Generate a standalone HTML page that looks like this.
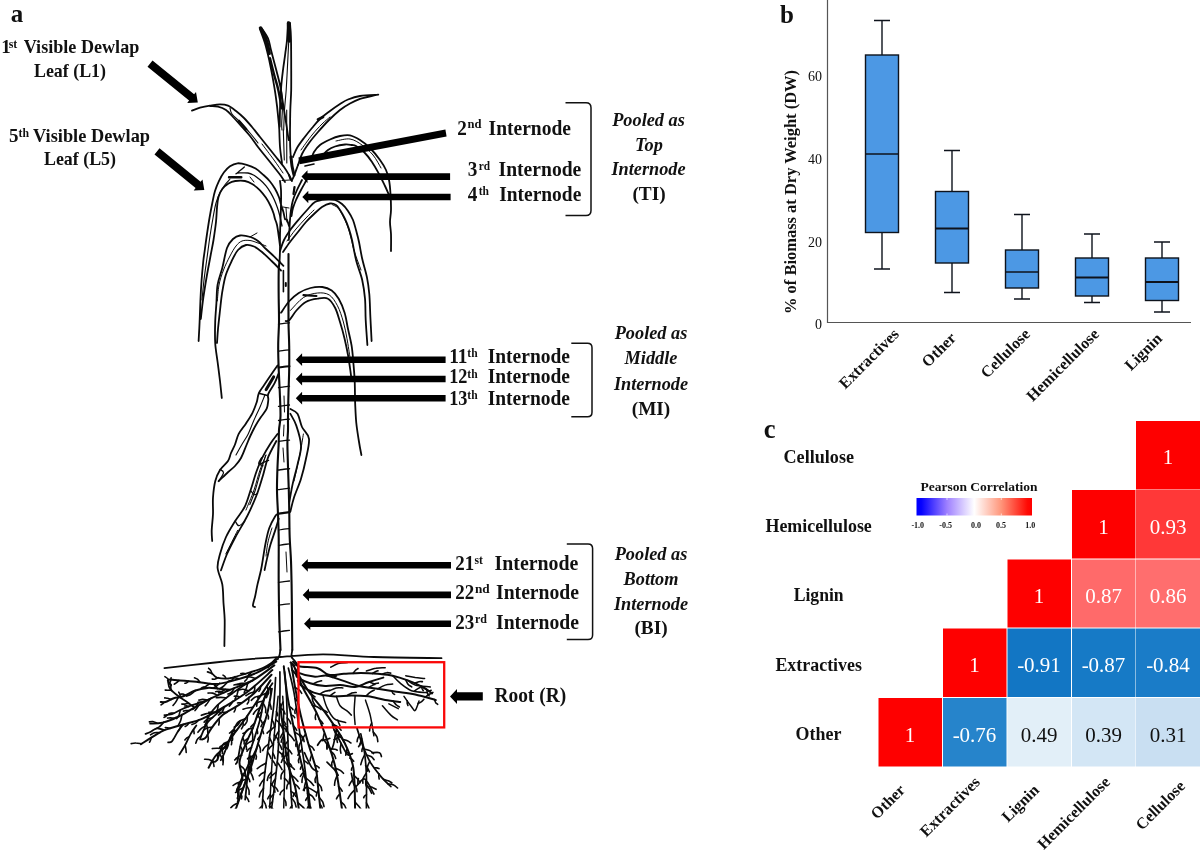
<!DOCTYPE html>
<html lang="en">
<head>
<meta charset="utf-8">
<title>Figure 1</title>
<style>
html,body{margin:0;padding:0;background:#fff;}
body{width:1200px;height:852px;overflow:hidden;position:relative;}
svg{position:absolute;left:0;top:0;display:block;}
text{font-family:"Liberation Serif","DejaVu Serif",serif;fill:#111;}
.b{font-weight:bold;}
.bi{font-weight:bold;font-style:italic;}
.lab{font-weight:bold;font-size:19px;}
.lab2{font-weight:bold;font-size:21px;}
.sup{font-size:12px;font-weight:bold;}
.pool{font-weight:bold;font-style:italic;font-size:18.3px;text-anchor:middle;}
.poolr{font-weight:bold;font-size:19.3px;text-anchor:middle;}
.tick{font-size:14px;text-anchor:end;}
.xl{font-weight:bold;font-size:16px;text-anchor:end;}
.rl{font-weight:bold;font-size:19.2px;}
.cv{font-size:21px;text-anchor:middle;fill:#fff;}
.cvd{font-size:21px;text-anchor:middle;fill:#111;}
.lt{font-size:8px;font-weight:bold;text-anchor:middle;}
.ar{fill:#000;stroke:none;}
.plant path{fill:none;stroke:#0a0a0a;stroke-linecap:round;stroke-linejoin:round;}
</style>
</head>
<body>
<svg width="1200" height="852" viewBox="0 0 1200 852">
<defs>
<linearGradient id="pg" x1="0" x2="1" y1="0" y2="0">
<stop offset="0" stop-color="#0000ff"/>
<stop offset="0.04" stop-color="#0400ff"/>
<stop offset="0.27" stop-color="#a183ff"/>
<stop offset="0.5" stop-color="#ffffff"/>
<stop offset="0.73" stop-color="#ff977c"/>
<stop offset="0.96" stop-color="#ff0a04"/>
<stop offset="1" stop-color="#ff0000"/>
</linearGradient>
<clipPath id="rootclip"><rect x="0" y="640" width="480" height="168.500"/></clipPath>
</defs>
<rect x="0" y="0" width="1200" height="852" fill="#ffffff"/>

<!-- ================= PANEL A : plant drawing ================= -->
<g id="plant" class="plant">
<!--PLANT-->
<path style="stroke-width:1.0" d="M262.0,144.0 C264.0,146.7 270.5,155.2 274.0,160.0 C277.5,164.8 281.5,170.8 283.0,173.0 M301.0,150.0 C302.8,147.5 308.5,139.3 312.0,135.0 C315.5,130.7 319.0,127.0 322.0,124.0 C325.0,121.0 328.7,118.2 330.0,117.0 M336.0,141.0 C338.3,140.7 345.7,138.3 350.0,139.0 C354.3,139.7 358.2,142.3 362.0,145.0 C365.8,147.7 369.8,151.2 373.0,155.0 C376.2,158.8 379.7,165.8 381.0,168.0 M250.0,177.0 L254.0,182.0 M283.0,207.0 L289.0,208.0 M286.0,208.0 L287.0,222.0"/>
<path style="stroke-width:1.0" d="M287.0,241.0 C288.5,239.0 292.8,232.8 296.0,229.0 C299.2,225.2 303.0,221.2 306.0,218.0 C309.0,214.8 312.7,211.3 314.0,210.0 M332.0,204.5 C333.0,205.1 336.2,206.1 338.0,208.0 C339.8,209.9 341.4,213.0 343.0,216.0 C344.6,219.0 346.2,222.3 347.5,226.0 C348.8,229.7 349.8,233.7 351.0,238.0 C352.2,242.3 352.8,246.7 354.5,252.0 C356.2,257.3 359.9,267.0 361.0,270.0 M266.0,246.0 C264.7,245.5 260.7,243.9 258.0,243.0 C255.3,242.1 252.7,240.8 250.0,240.5 C247.3,240.2 244.3,240.1 242.0,241.0 C239.7,241.9 238.0,243.5 236.0,246.0 C234.0,248.5 232.1,252.0 230.0,256.0 C227.9,260.0 225.3,265.2 223.5,270.0 C221.7,274.8 220.0,279.8 219.0,285.0 C218.0,290.2 217.6,298.3 217.3,301.0 M250.0,237.0 L257.0,233.0 M284.0,396.0 L284.5,412.0 M284.0,425.0 L283.5,436.0"/>
<path style="stroke-width:1.0" d="M283.0,448.0 L284.0,462.0 M286.0,552.0 L287.0,572.0 M290.4,310.5 C292.6,308.3 299.0,300.4 303.5,297.5 C308.0,294.6 313.3,293.4 317.6,293.0 C321.9,292.6 326.0,292.9 329.3,295.0 C332.6,297.1 335.1,301.3 337.5,305.8 C339.9,310.3 341.8,316.5 343.4,322.0 C345.0,327.5 345.9,332.8 347.0,338.7 C348.1,344.6 349.5,354.4 350.0,357.5 M237.6,530.4 C236.6,532.4 233.7,538.2 231.7,542.2 C229.8,546.1 226.8,551.9 225.8,553.9 M266.0,455.0 C265.0,457.5 262.0,464.2 260.0,470.0 C258.0,475.8 256.3,483.3 254.0,490.0 C251.7,496.7 247.3,506.7 246.0,510.0 M272.0,528.0 C271.3,530.3 269.0,537.3 268.0,542.0 C267.0,546.7 266.3,553.7 266.0,556.0"/>
<path style="stroke-width:1.0" d="M303.4,434.0 C302.8,437.5 301.4,447.2 299.8,455.0 C298.2,462.8 295.0,476.7 294.0,481.0"/>
<path style="stroke-width:1.1" d="M288.7,41.7 C288.5,44.7 288.2,51.9 287.8,60.0 C287.4,68.1 286.7,81.7 286.2,90.0 C285.6,98.3 284.9,103.3 284.5,110.0 C284.1,116.7 283.8,126.7 283.7,130.0 M286.7,110.0 L286.7,130.0 M283.3,130.0 L284.3,160.0 M286.7,130.0 L286.8,163.0 M280.8,85.0 C281.1,88.1 282.4,96.9 282.5,103.3 C282.6,109.7 281.8,118.9 281.7,123.3 C281.6,127.8 281.9,128.9 282.0,130.0 M230.0,108.0 C230.3,109.0 230.3,111.7 232.0,114.0 C233.7,116.3 237.0,118.8 240.0,122.0 C243.0,125.2 247.0,129.5 250.0,133.0 C253.0,136.5 256.7,141.3 258.0,143.0"/>
<path style="stroke-width:1.1" d="M230.0,179.0 C229.1,180.0 226.5,182.7 224.8,185.0 C223.1,187.3 221.5,189.6 220.0,192.6 C218.5,195.6 217.2,198.8 216.0,203.0 C214.8,207.2 214.0,212.5 213.0,218.0 C212.0,223.5 211.0,229.3 210.0,236.0 C209.0,242.7 208.0,250.7 207.0,258.0 C206.0,265.3 204.8,273.0 204.0,280.0 C203.2,287.0 202.3,296.7 202.0,300.0 M282.0,180.5 L290.0,180.0 M265.0,394.8 C264.1,396.9 261.7,403.1 259.8,407.5 C257.9,411.9 255.4,416.8 253.5,421.2 C251.6,425.6 250.1,430.0 248.2,433.9 C246.3,437.8 243.9,441.0 241.9,444.5 C239.9,448.0 237.0,453.2 236.0,455.0 M265.8,455.2 C264.8,458.4 261.7,468.2 259.9,474.0 C258.1,479.9 256.9,485.4 255.2,490.5 C253.5,495.6 250.7,502.2 249.8,504.6"/>
<path style="stroke-width:1.2" d="M278.5,530.0 C279.4,529.9 282.2,529.4 284.0,529.2 C285.8,529.0 288.6,528.7 289.5,528.6 M220.0,469.3 C220.6,469.9 223.8,470.8 223.5,472.9 C223.2,474.9 219.2,480.1 218.3,481.5 M261.5,457.6 C261.1,458.6 258.5,462.1 258.7,463.5 C259.0,464.8 262.3,465.4 263.0,465.8 M250.5,490.5 C251.2,491.2 253.3,494.2 254.5,494.7 C255.7,495.2 257.0,493.5 257.6,493.3 M235.2,521.0 C235.8,521.8 237.2,525.6 238.8,525.7 C240.3,525.8 243.7,522.2 244.6,521.5"/>
<path style="stroke-width:1.3" d="M282.0,226.0 C281.6,224.2 280.4,218.1 279.6,215.0 C278.8,211.9 278.3,210.1 277.4,207.6 C276.5,205.1 275.5,202.5 274.4,200.0 C273.3,197.5 272.0,195.0 270.6,192.6 C269.2,190.2 267.8,187.9 266.0,185.8 C264.2,183.7 262.0,181.6 260.0,179.8 C258.0,178.1 256.0,176.4 254.0,175.3 C252.0,174.2 250.8,173.4 248.0,173.0 C245.2,172.6 239.2,173.0 237.5,173.0 M244.3,167.0 C243.6,167.6 241.2,169.7 239.8,170.8 C238.4,171.9 236.6,173.3 236.0,173.8 M278.5,324.2 C279.4,324.1 282.2,323.6 284.0,323.4 C285.8,323.2 288.6,322.9 289.5,322.8 M278.5,351.2 C279.4,351.1 282.2,350.6 284.0,350.4 C285.8,350.2 288.6,349.9 289.5,349.8 M278.5,387.6 C279.4,387.5 282.2,387.0 284.0,386.8 C285.8,386.6 288.6,386.3 289.5,386.2 M278.5,406.4 C279.4,406.3 282.2,405.8 284.0,405.6 C285.8,405.4 288.6,405.1 289.5,405.0"/>
<path style="stroke-width:1.3" d="M278.5,420.5 C279.4,420.4 282.2,419.9 284.0,419.7 C285.8,419.5 288.6,419.2 289.5,419.1 M278.5,441.5 C279.4,441.4 282.2,440.9 284.0,440.7 C285.8,440.5 288.6,440.2 289.5,440.1 M278.5,489.6 C279.4,489.5 282.2,489.0 284.0,488.8 C285.8,488.6 288.6,488.3 289.5,488.2 M278.5,545.3 C279.4,545.2 282.2,544.7 284.0,544.5 C285.8,544.3 288.6,544.0 289.5,543.9 M278.5,582.4 C279.4,582.3 282.2,581.8 284.0,581.6 C285.8,581.4 288.6,581.1 289.5,581.0 M278.5,605.2 C279.4,605.1 282.2,604.6 284.0,604.4 C285.8,604.2 288.6,603.9 289.5,603.8"/>
<path style="stroke-width:1.3" d="M278.5,631.8 C279.4,631.7 282.2,631.2 284.0,631.0 C285.8,630.8 288.6,630.5 289.5,630.4"/>
<path style="stroke-width:1.4" d="M258.8,393.3 L267.5,395.5 M259.9,464.2 C260.7,463.8 263.2,462.4 264.6,461.8 C266.0,461.2 267.9,460.6 268.6,460.4"/>
<path style="stroke-width:1.5" d="M278.5,470.1 C279.4,470.0 282.2,469.5 284.0,469.3 C285.8,469.1 288.6,468.8 289.5,468.7"/>
<path style="stroke-width:1.6" d="M305.0,166.0 L314.0,164.0 M283.4,270.5 L283.4,291.7"/>
<path style="stroke-width:1.8" d="M288.0,22.5 C287.8,25.4 287.4,34.9 287.0,40.0 C286.6,45.1 286.0,48.3 285.3,53.3 C284.7,58.3 283.7,64.4 283.0,70.0 C282.3,75.6 281.6,81.1 281.2,86.7 C280.7,92.2 280.4,96.7 280.2,103.3 C279.9,110.0 279.8,122.8 279.7,126.7 M290.0,23.0 C290.2,25.8 290.8,33.8 291.0,40.0 C291.2,46.2 291.1,51.7 291.2,60.0 C291.2,68.3 291.3,81.7 291.2,90.0 C291.0,98.3 290.5,103.3 290.3,110.0 C290.1,116.7 290.1,126.7 290.0,130.0 M279.3,130.0 C279.4,132.8 279.6,141.5 280.0,147.0 C280.4,152.5 281.7,160.3 282.0,163.0 M290.0,130.0 C290.0,132.8 290.0,141.8 290.2,147.0 C290.4,152.2 290.9,158.7 291.0,161.0 M261.3,27.7 C262.4,29.4 266.4,34.6 268.0,38.3 C269.6,42.1 269.7,45.0 271.0,50.0 C272.3,55.0 274.3,62.5 275.8,68.3 C277.3,74.2 278.8,79.2 280.0,85.0 C281.2,90.8 281.9,96.4 283.0,103.3 C284.1,110.3 285.7,120.6 286.7,126.7 C287.6,132.8 288.3,137.8 288.7,140.0 M260.0,29.2 C260.8,31.5 263.5,38.2 265.0,43.3 C266.5,48.5 267.9,54.4 269.2,60.0 C270.4,65.6 271.4,70.6 272.5,76.7 C273.6,82.8 274.9,89.7 275.8,96.7 C276.8,103.6 277.8,112.8 278.3,118.3 C278.9,123.9 279.2,128.1 279.3,130.0"/>
<path style="stroke-width:1.8" d="M192.0,110.6 C193.3,110.1 197.0,108.4 200.0,107.6 C203.0,106.8 206.7,106.1 210.0,105.6 C213.3,105.1 217.0,104.4 220.0,104.4 C223.0,104.4 225.3,104.5 228.0,105.6 C230.7,106.7 233.3,108.9 236.0,111.0 C238.7,113.1 241.3,115.3 244.0,118.0 C246.7,120.7 249.3,123.8 252.0,127.0 C254.7,130.2 257.3,133.7 260.0,137.0 C262.7,140.3 265.3,143.7 268.0,147.0 C270.7,150.3 273.3,153.7 276.0,157.0 C278.7,160.3 281.8,164.0 284.0,167.0 C286.2,170.0 287.7,172.7 289.0,175.0 C290.3,177.3 291.5,180.0 292.0,181.0 M210.0,106.2 C211.3,106.3 215.3,106.0 218.0,106.6 C220.7,107.2 223.3,108.1 226.0,110.0 C228.7,111.9 231.3,115.2 234.0,118.0 C236.7,120.8 239.3,124.0 242.0,127.0 C244.7,130.0 247.3,132.7 250.0,136.0 C252.7,139.3 255.3,143.5 258.0,147.0 C260.7,150.5 263.3,153.7 266.0,157.0 C268.7,160.3 271.5,163.8 274.0,167.0 C276.5,170.2 279.2,173.5 281.0,176.0 C282.8,178.5 284.3,181.0 285.0,182.0 M293.0,157.0 C293.7,155.5 295.2,151.2 297.0,148.0 C298.8,144.8 301.5,141.3 304.0,138.0 C306.5,134.7 309.3,131.2 312.0,128.0 C314.7,124.8 317.0,121.8 320.0,119.0 C323.0,116.2 326.7,113.5 330.0,111.0 C333.3,108.5 337.0,105.9 340.0,104.0 C343.0,102.1 344.7,100.8 348.0,99.5 C351.3,98.2 354.9,96.8 360.0,96.0 C365.1,95.2 375.2,94.9 378.3,94.7 M298.0,165.0 C298.7,163.2 300.2,157.7 302.0,154.0 C303.8,150.3 306.3,146.7 309.0,143.0 C311.7,139.3 314.7,135.8 318.0,132.0 C321.3,128.2 325.3,123.7 329.0,120.0 C332.7,116.3 336.5,112.8 340.0,110.0 C343.5,107.2 346.7,105.3 350.0,103.5 C353.3,101.7 356.9,100.0 360.0,98.9 C363.1,97.8 365.2,97.5 368.3,96.8 C371.4,96.1 376.6,95.0 378.3,94.7 M312.0,157.0 C312.3,156.2 312.7,154.0 314.0,152.0 C315.3,150.0 317.3,147.1 320.0,145.0 C322.7,142.9 326.7,141.0 330.0,139.5 C333.3,138.0 336.7,136.7 340.0,136.0 C343.3,135.3 346.7,134.6 350.0,135.3 C353.3,136.0 356.7,137.9 360.0,140.0 C363.3,142.1 366.7,144.7 370.0,148.0 C373.3,151.3 377.3,156.3 380.0,160.0 C382.7,163.7 384.5,166.7 386.0,170.0 C387.5,173.3 388.2,176.0 389.0,180.0 C389.8,184.0 390.2,189.0 390.5,194.0 C390.8,199.0 391.1,205.3 391.0,210.0 C390.9,214.7 390.0,218.0 390.0,222.0 C390.0,226.0 390.8,229.2 391.0,234.0 C391.2,238.8 391.0,248.2 391.0,251.0 M322.0,156.0 C323.0,155.0 325.8,151.6 328.0,150.0 C330.2,148.4 332.2,147.4 335.0,146.5 C337.8,145.6 342.2,144.8 345.0,144.5 C347.8,144.2 350.2,144.8 352.0,145.0 C353.8,145.2 354.0,144.8 356.0,146.0 C358.0,147.2 361.3,149.3 364.0,152.0 C366.7,154.7 369.5,158.3 372.0,162.0 C374.5,165.7 376.8,170.0 379.0,174.0 C381.2,178.0 383.3,182.5 385.0,186.0 C386.7,189.5 388.3,193.5 389.0,195.0"/>
<path style="stroke-width:1.8" d="M290.0,229.0 C289.5,227.5 287.8,221.7 287.0,220.0 C286.2,218.3 285.6,220.3 285.0,219.0 C284.4,217.7 284.1,214.4 283.4,212.0 C282.7,209.6 281.8,207.1 281.0,204.6 C280.2,202.1 279.9,199.6 278.9,197.0 C277.9,194.4 276.5,191.4 275.0,188.8 C273.5,186.2 271.7,183.6 269.8,181.3 C267.9,179.1 266.2,177.4 263.8,175.3 C261.4,173.2 258.5,170.2 255.6,168.5 C252.7,166.8 249.6,165.7 246.6,164.8 C243.6,163.9 240.3,163.1 237.5,163.3 C234.7,163.6 232.2,164.8 230.0,166.3 C227.8,167.8 225.9,169.8 224.0,172.3 C222.1,174.8 220.3,178.2 218.8,181.3 C217.3,184.4 216.1,187.6 215.0,191.0 C213.9,194.4 213.4,197.5 212.5,202.0 C211.6,206.5 210.4,212.7 209.5,218.0 C208.6,223.3 207.8,228.7 207.0,234.0 C206.2,239.3 205.4,245.3 204.8,250.0 C204.2,254.7 203.7,257.0 203.2,262.0 C202.7,267.0 202.1,273.5 201.6,280.0 C201.1,286.5 200.7,294.0 200.4,301.0 C200.1,308.0 199.9,315.3 199.6,322.0 C199.3,328.7 198.8,337.8 198.6,341.0 M280.0,246.0 C279.8,244.7 279.5,241.5 279.0,238.0 C278.5,234.5 277.7,228.2 277.0,225.0 C276.3,221.8 275.6,220.9 275.0,219.0 C274.4,217.1 274.3,215.8 273.6,213.6 C272.9,211.4 271.9,208.6 270.6,206.0 C269.3,203.4 267.8,200.4 266.0,197.8 C264.2,195.2 262.2,192.6 260.0,190.3 C257.8,188.1 255.1,185.9 252.6,184.3 C250.1,182.8 247.9,181.6 245.0,181.0 C242.1,180.4 238.1,180.6 235.3,181.0 C232.6,181.4 230.6,182.2 228.5,183.5 C226.4,184.8 224.2,186.6 222.5,188.8 C220.8,191.1 219.4,193.9 218.5,197.0 C217.6,200.1 217.4,203.4 217.0,207.6 C216.6,211.8 216.6,216.6 216.0,222.0 C215.4,227.4 214.4,234.3 213.5,240.0 C212.6,245.7 211.6,250.0 210.5,256.0 C209.4,262.0 208.0,269.0 206.8,276.0 C205.6,283.0 204.3,290.8 203.3,298.0 C202.3,305.2 201.2,315.5 200.8,319.0 M289.0,175.0 C289.5,175.8 290.5,181.7 292.0,180.0 C293.5,178.3 297.0,167.5 298.0,165.0 M280.0,181.0 C280.2,182.5 280.8,186.2 281.0,190.0 C281.2,193.8 281.1,199.0 281.0,204.0 C280.9,209.0 280.7,214.8 280.5,220.0 C280.3,225.2 280.1,230.0 280.0,235.0 C279.9,240.0 280.1,245.5 280.0,250.0 C279.9,254.5 279.6,260.0 279.5,262.0 M302.0,180.0 C301.2,181.7 298.5,186.7 297.0,190.0 C295.5,193.3 294.0,196.7 293.0,200.0 C292.0,203.3 291.5,206.7 291.0,210.0 C290.5,213.3 290.2,217.0 290.0,220.0 C289.8,223.0 289.7,224.7 289.5,228.0 C289.3,231.3 288.9,238.0 288.8,240.0 M306.0,181.0 C305.2,182.5 302.7,186.8 301.0,190.0 C299.3,193.2 297.3,197.0 296.0,200.0 C294.7,203.0 293.8,205.3 293.0,208.0 C292.2,210.7 291.8,214.7 291.5,216.0"/>
<path style="stroke-width:1.8" d="M280.0,251.0 C280.7,249.2 282.2,243.7 284.0,240.0 C285.8,236.3 288.3,232.7 291.0,229.0 C293.7,225.3 297.2,221.3 300.0,218.0 C302.8,214.7 305.5,211.7 308.0,209.0 C310.5,206.3 312.2,203.6 315.0,202.0 C317.8,200.4 321.7,199.8 325.0,199.5 C328.3,199.2 332.2,199.2 335.0,200.0 C337.8,200.8 339.8,202.2 342.0,204.0 C344.2,205.8 346.2,208.3 348.0,211.0 C349.8,213.7 351.7,216.8 353.0,220.0 C354.3,223.2 355.0,226.3 356.0,230.0 C357.0,233.7 358.0,237.2 359.0,242.0 C360.0,246.8 360.9,252.9 362.2,258.8 C363.5,264.7 365.8,271.7 367.0,277.6 C368.2,283.5 368.7,287.4 369.3,294.0 C369.9,300.6 370.0,309.7 370.4,317.5 C370.8,325.3 371.4,337.1 371.6,341.0 M283.0,252.0 C284.2,250.3 287.5,245.3 290.0,242.0 C292.5,238.7 295.3,235.3 298.0,232.0 C300.7,228.7 303.3,225.0 306.0,222.0 C308.7,219.0 311.3,216.5 314.0,214.0 C316.7,211.5 319.3,208.8 322.0,207.0 C324.7,205.2 327.7,203.8 330.0,203.5 C332.3,203.2 334.3,203.9 336.0,205.0 C337.7,206.1 338.5,207.7 340.0,210.0 C341.5,212.3 343.5,215.8 345.0,219.0 C346.5,222.2 347.8,225.5 349.0,229.0 C350.2,232.5 350.8,234.7 352.0,240.0 C353.2,245.3 354.6,254.3 356.3,261.0 C358.0,267.7 360.8,273.7 362.2,280.0 C363.6,286.3 364.4,292.0 365.0,298.7 C365.6,305.4 365.3,312.3 365.7,320.0 C366.1,327.7 367.1,340.8 367.4,345.0 M283.4,265.8 C281.8,264.2 276.9,259.2 274.0,256.4 C271.1,253.6 268.7,251.6 266.0,249.0 C263.3,246.4 260.6,243.0 258.0,241.0 C255.4,239.0 253.5,237.9 250.5,237.0 C247.5,236.1 242.9,235.2 240.0,235.5 C237.1,235.8 235.2,236.9 233.0,239.0 C230.8,241.1 228.8,243.2 227.0,248.0 C225.2,252.8 223.9,261.9 222.3,268.0 C220.7,274.1 218.6,278.7 217.6,284.6 C216.6,290.5 216.8,297.2 216.4,303.4 C216.0,309.6 215.4,315.4 215.2,322.0 C215.0,328.6 214.8,336.3 215.2,343.0 C215.6,349.7 216.8,355.7 217.6,362.0 C218.4,368.3 219.3,375.0 220.0,381.0 C220.7,387.0 221.5,395.2 221.8,398.0 M281.0,270.5 C279.4,268.9 274.8,264.1 271.6,261.0 C268.4,257.9 264.9,254.4 262.0,252.0 C259.1,249.6 256.7,247.7 254.0,246.5 C251.3,245.3 248.7,244.4 246.0,245.0 C243.3,245.6 240.4,247.3 238.0,250.0 C235.6,252.7 233.7,256.8 231.7,261.0 C229.7,265.2 227.4,269.9 225.8,275.0 C224.2,280.1 223.3,285.8 222.3,291.7 C221.3,297.6 220.7,304.3 220.0,310.5 C219.3,316.7 218.5,323.6 218.0,329.0 C217.5,334.4 217.2,340.7 217.0,343.0 M281.0,312.8 C282.4,310.8 286.4,304.3 289.4,301.0 C292.4,297.7 295.3,295.1 298.8,292.9 C302.3,290.7 306.6,289.0 310.5,288.0 C314.4,287.0 318.8,286.6 322.3,287.0 C325.8,287.4 329.0,288.6 331.7,290.5 C334.4,292.4 336.5,295.0 338.7,298.7 C340.9,302.4 343.1,307.8 344.6,312.8 C346.2,317.9 346.8,323.5 348.0,329.0 C349.2,334.5 350.7,340.2 351.6,345.7 C352.5,351.2 352.8,356.1 353.3,362.0 C353.8,367.9 354.4,373.9 354.7,381.0 C355.0,388.1 354.9,397.4 355.2,404.4 C355.5,411.4 355.7,417.1 356.3,423.0 C356.9,428.9 357.9,434.7 358.7,440.0 C359.5,445.3 360.9,452.5 361.4,455.0 M285.7,321.0 C286.3,320.8 287.6,321.8 289.4,320.0 C291.2,318.2 293.7,313.5 296.4,310.5 C299.1,307.5 302.3,304.0 305.8,302.0 C309.3,300.0 313.9,299.2 317.6,298.7 C321.3,298.1 325.1,297.1 328.0,298.7 C330.9,300.2 333.2,304.1 335.2,308.0 C337.2,311.9 338.4,316.9 340.0,322.0 C341.6,327.1 343.3,333.2 344.6,338.7 C345.9,344.2 347.0,349.5 348.0,355.0 C349.0,360.5 349.9,367.2 350.5,371.5 C351.1,375.8 351.4,379.4 351.6,381.0"/>
<path style="stroke-width:1.8" d="M277.5,365.5 C276.3,367.2 272.6,372.5 270.4,375.8 C268.1,379.1 265.9,382.4 264.0,385.3 C262.1,388.2 260.0,390.5 258.8,393.3 C257.6,396.1 257.8,398.9 256.7,402.2 C255.6,405.4 254.3,409.3 252.5,412.8 C250.7,416.3 248.3,419.9 246.0,423.4 C243.7,426.9 240.5,430.4 238.7,433.9 C236.9,437.4 236.3,441.3 235.0,444.5 C233.7,447.7 232.2,450.2 231.0,453.0 C229.8,455.8 229.8,458.2 228.0,461.0 C226.2,463.8 222.1,466.7 220.0,470.0 C217.9,473.3 216.5,476.4 215.3,481.0 C214.1,485.6 213.4,492.0 213.0,497.5 C212.6,503.0 213.2,508.5 213.0,514.0 C212.8,519.5 211.8,525.9 211.7,530.4 C211.6,534.9 212.1,539.2 212.2,541.0 M278.5,373.7 C277.9,375.3 276.3,379.8 274.6,383.2 C272.9,386.6 269.4,391.0 268.3,393.8 C267.2,396.6 268.6,397.5 268.3,400.0 C268.0,402.5 267.9,405.8 266.7,408.6 C265.5,411.4 262.9,414.2 261.0,417.0 C259.1,419.8 257.4,422.3 255.6,425.5 C253.8,428.7 251.8,432.8 250.3,436.0 C248.8,439.2 248.1,441.3 246.5,445.0 C244.9,448.7 242.9,454.5 241.0,458.0 C239.1,461.5 237.1,463.7 235.0,466.0 C232.9,468.3 230.9,469.5 228.2,472.0 C225.5,474.5 220.4,479.5 218.8,481.0 M277.5,434.0 C276.3,435.6 273.0,439.6 270.5,443.5 C268.0,447.4 264.7,452.9 262.3,457.6 C259.9,462.3 258.4,466.2 256.4,471.7 C254.4,477.2 252.5,484.6 250.5,490.5 C248.5,496.4 247.2,501.9 244.6,507.0 C242.0,512.1 238.3,515.9 235.2,521.0 C232.1,526.1 228.3,532.0 225.8,537.5 C223.3,543.0 221.4,548.9 220.0,554.0 C218.6,559.1 217.2,562.9 217.6,568.0 C218.0,573.1 221.3,578.6 222.3,584.4 C223.3,590.2 223.1,597.1 223.5,603.0 C223.9,608.9 224.5,612.8 224.7,620.0 C224.8,627.2 224.4,641.7 224.4,646.0 M276.3,441.0 C274.9,443.8 270.1,452.1 268.0,457.6 C265.9,463.1 265.1,468.1 263.4,474.0 C261.6,479.9 259.6,486.9 257.5,492.8 C255.3,498.7 252.7,504.6 250.5,509.3 C248.3,514.0 247.2,516.3 244.6,521.0 C242.0,525.7 238.1,532.0 235.2,537.5 C232.3,543.0 229.4,548.5 227.0,554.0 C224.6,559.5 222.0,567.6 221.0,570.3 M277.5,514.0 C277.1,514.4 276.6,514.0 275.2,516.3 C273.8,518.6 270.9,523.7 269.3,528.0 C267.7,532.3 266.8,537.3 265.8,542.0 C264.8,546.7 264.2,551.3 263.4,556.0 C262.6,560.7 262.0,565.3 261.0,570.0 C260.0,574.7 258.5,580.1 257.5,584.4 C256.5,588.7 256.0,592.5 255.2,596.0 C254.4,599.5 252.9,603.8 252.9,605.6 C252.9,607.4 254.7,606.8 255.0,607.0 M278.7,518.7 C278.1,520.7 276.6,526.1 275.2,530.4 C273.8,534.7 271.9,539.8 270.5,544.5 C269.1,549.2 268.0,554.4 267.0,558.6 C266.0,562.9 265.0,568.1 264.6,570.0"/>
<path style="stroke-width:1.8" d="M290.4,409.0 C291.6,409.8 295.6,410.8 297.5,413.8 C299.4,416.8 300.1,422.8 302.0,427.0 C303.9,431.2 308.4,433.3 309.0,438.8 C309.6,444.3 307.0,453.4 305.7,460.0 C304.4,466.6 302.9,472.4 301.0,478.7 C299.1,484.9 295.8,492.0 294.0,497.5 C292.2,503.0 291.0,509.2 290.4,511.6 M290.4,413.8 C291.4,415.8 294.5,420.3 296.3,425.6 C298.1,430.9 300.8,439.3 301.0,445.8 C301.2,452.3 298.9,458.3 297.5,464.6 C296.1,470.9 294.2,477.2 292.8,483.4 C291.4,489.6 289.9,498.9 289.3,502.0 M280.3,650.0 C280.1,651.0 279.9,654.7 279.3,656.0 C278.7,657.3 277.8,657.0 276.7,658.0 C275.6,659.0 274.4,660.1 273.0,661.7 C271.6,663.3 268.8,666.5 268.0,667.5 M292.3,650.0 C292.2,651.1 291.2,654.8 291.5,656.5 C291.8,658.2 293.0,658.6 294.0,660.0 C295.0,661.4 296.8,662.5 297.5,665.0 C298.2,667.5 298.3,673.3 298.5,675.0 M164.4,668.2 C172.8,667.2 200.3,664.1 215.0,662.5 C229.7,660.9 242.0,659.7 252.7,658.8 C263.4,657.9 274.6,657.3 279.0,657.0 M280.0,657.0 C287.2,656.5 307.3,654.3 323.0,654.3 C338.7,654.3 354.2,656.4 374.0,657.0 C393.8,657.6 430.2,658.0 441.5,658.2"/>
<path style="stroke-width:2.0" d="M278.5,367.6 C279.4,367.5 282.2,367.0 284.0,366.8 C285.8,366.6 288.6,366.3 289.5,366.2 M285.8,283.0 L285.8,286.0 M292.0,670.0 L296.7,675.0"/>
<path style="stroke-width:2.1" d="M279.5,262.0 C279.4,263.4 278.8,264.4 278.7,270.5 C278.6,276.6 278.6,290.1 278.7,298.7 C278.8,307.3 279.1,314.2 279.0,322.0 C278.9,329.8 278.2,337.9 278.2,345.7 C278.1,353.5 278.4,361.2 278.7,369.0 C279.0,376.8 279.5,384.9 279.8,392.7 C280.1,400.5 280.6,409.8 280.5,416.0 C280.4,422.2 279.3,425.4 279.0,430.0 C278.7,434.6 278.9,437.3 278.7,443.5 C278.4,449.7 277.8,459.2 277.5,467.0 C277.2,474.8 276.9,482.7 277.0,490.5 C277.1,498.3 277.7,506.2 278.0,514.0 C278.3,521.8 278.6,529.7 278.7,537.5 C278.8,545.3 278.7,553.2 278.7,561.0 C278.7,568.8 278.6,574.6 278.7,584.4 C278.8,594.2 279.0,609.1 279.3,620.0 C279.6,630.9 280.3,645.0 280.5,650.0 M288.5,254.0 C288.5,259.5 288.5,275.7 288.5,287.0 C288.5,298.3 288.4,312.2 288.5,322.0 C288.6,331.8 289.1,337.9 289.2,345.7 C289.3,353.5 289.3,361.2 289.2,369.0 C289.1,376.8 288.7,384.9 288.5,392.7 C288.3,400.5 288.1,409.8 288.0,416.0 C287.9,422.2 288.1,425.4 288.0,430.0 C287.9,434.6 287.4,437.3 287.4,443.5 C287.4,449.7 287.8,459.2 288.0,467.0 C288.2,474.8 288.6,482.7 288.8,490.5 C289.0,498.3 289.2,506.2 289.3,514.0 C289.4,521.8 289.4,529.7 289.7,537.5 C290.0,545.3 290.7,553.2 291.0,561.0 C291.3,568.8 291.4,574.6 291.6,584.4 C291.8,594.2 291.9,609.1 292.0,620.0 C292.1,630.9 292.2,645.0 292.3,650.0"/>
<path style="stroke-width:2.2" d="M294.5,187.0 L293.5,194.0 M278.5,513.6 C279.4,513.5 282.2,513.0 284.0,512.8 C285.8,512.6 288.6,512.3 289.5,512.2 M303.5,295.2 L316.4,296.0"/>
<path style="stroke-width:2.4" d="M270.0,58.3 C270.7,61.1 272.8,69.7 274.2,75.0 C275.6,80.3 277.1,84.4 278.3,90.0 C279.6,95.6 281.1,105.3 281.7,108.3 M229.0,177.2 L241.3,177.2 M290.8,662.5 L294.0,665.8"/>
<path style="stroke-width:2.6" d="M239.0,121.0 L246.0,129.0 M318.0,119.5 L323.0,117.0"/>
<path style="stroke-width:3.0" d="M291.0,157.0 C291.2,158.5 291.5,163.0 292.0,166.0 C292.5,169.0 293.7,173.5 294.0,175.0 M273.6,376.9 L266.2,389.6"/>
<path style="stroke-width:3.5" d="M260.5,28.0 C261.1,29.2 263.1,32.4 264.2,35.0 C265.3,37.6 266.3,40.3 267.2,43.3 C268.0,46.4 268.8,51.7 269.2,53.3"/>
<path style="stroke-width:4.0" d="M288.7,23.3 C288.8,24.7 289.1,28.8 289.2,31.7 C289.2,34.6 289.2,39.3 289.2,40.8"/>
<g clip-path="url(#rootclip)">
<path style="stroke-width:1.5" d="M278.1,696.3 C277.7,699.5 277.0,707.0 276.2,715.1 C275.4,723.3 274.1,735.8 273.4,745.2 C272.6,754.6 272.1,760.8 271.5,771.5 C270.9,782.1 269.9,802.8 269.6,809.0 M282.7,696.3 C282.9,699.5 283.6,707.0 283.7,715.1 C283.8,723.3 283.0,735.8 283.1,745.2 C283.3,754.6 284.5,760.8 284.6,771.5 C284.7,782.1 283.8,802.8 283.7,809.0 M330.7,667.2 C332.0,666.6 335.4,664.3 338.2,663.5 C341.0,662.7 346.1,662.7 347.6,662.5 M366.4,671.0 C368.0,670.5 372.7,668.7 375.8,668.2 C378.9,667.6 383.6,667.9 385.2,667.8 M329.8,690.7 C330.9,690.2 334.2,688.4 336.3,687.9 C338.5,687.4 341.8,687.9 342.9,687.9 M405.8,675.7 C407.4,676.0 412.1,677.1 415.2,677.6 C418.4,678.0 423.1,678.3 424.6,678.5 M407.7,680.4 C409.0,681.2 411.5,684.0 415.2,685.1 C419.0,686.2 427.8,686.6 430.3,687.0 M404.0,696.3 C405.2,698.1 409.6,704.3 411.5,706.7 C413.4,709.0 414.0,711.4 415.2,710.4 C416.5,709.5 418.4,702.6 419.0,701.0"/>
<path style="stroke-width:1.5" d="M382.4,705.7 C383.8,707.3 388.3,712.8 390.8,715.1 C393.3,717.5 396.3,719.0 397.4,719.8 M388.9,703.9 L398.3,708.6 M336.3,696.3 C337.0,697.9 338.2,703.2 340.1,705.7 C342.0,708.2 345.7,709.8 347.6,711.4 C349.5,712.9 350.7,714.5 351.4,715.1 M355.1,696.3 C355.0,698.9 354.2,706.7 354.2,711.4 C354.2,716.1 355.0,722.3 355.1,724.5 M365.5,700.1 C366.2,702.6 368.7,709.2 370.2,715.1 C371.6,721.1 373.3,732.3 373.9,735.8 M323.2,696.3 C323.8,698.2 325.1,703.9 327.0,707.6 C328.8,711.4 331.3,716.4 334.5,718.9 C337.6,721.4 343.9,722.0 345.7,722.6 M392.7,675.7 C393.9,676.9 397.1,680.7 400.2,683.2 C403.3,685.7 407.1,689.1 411.5,690.7 C415.9,692.3 424.0,692.3 426.5,692.6 M377.7,688.8 C378.9,688.2 382.7,685.9 385.2,685.1 C387.7,684.3 391.4,684.3 392.7,684.1"/>
<path style="stroke-width:1.5" d="M422.7,687.0 C423.7,687.6 427.0,690.2 428.4,690.7 C429.8,691.3 430.7,690.4 431.2,690.3"/>
<path style="stroke-width:1.6" d="M251.6,671.7 C251.4,672.0 250.7,673.1 250.2,673.6 C249.7,674.2 248.9,674.6 248.6,674.9 M245.4,673.7 C245.0,673.7 243.7,673.3 242.9,673.3 C242.2,673.3 241.2,673.5 240.8,673.5 M235.1,676.6 C234.5,677.2 233.1,679.2 232.0,680.0 C230.8,680.8 229.0,681.1 228.4,681.3 M225.9,678.3 C225.7,678.0 225.1,676.8 224.7,676.3 C224.2,675.8 223.3,675.4 223.0,675.2 M218.1,677.7 C217.6,677.9 216.0,678.8 215.0,679.1 C214.0,679.3 212.7,679.1 212.2,679.1 M212.1,673.7 C211.9,673.2 211.2,671.3 210.7,670.4 C210.1,669.5 209.0,668.6 208.6,668.2 M248.8,675.4 C248.5,676.0 247.6,677.9 246.9,678.9 C246.2,679.8 245.1,680.9 244.8,681.3 M238.8,678.8 C238.1,678.6 235.8,677.8 234.5,677.7 C233.2,677.5 231.5,677.9 230.9,677.9"/>
<path style="stroke-width:1.6" d="M228.1,681.5 C227.4,682.2 225.3,684.6 223.9,685.8 C222.6,687.0 220.7,688.2 220.0,688.7 M219.7,683.2 C219.2,683.7 217.6,685.2 216.7,685.9 C215.7,686.7 214.4,687.5 213.9,687.8 M210.0,683.5 C209.2,684.0 206.9,685.8 205.4,686.6 C203.9,687.5 201.9,688.1 201.2,688.3 M200.0,682.2 C199.6,681.7 198.3,679.9 197.4,679.1 C196.5,678.4 195.0,678.0 194.5,677.8 M188.6,681.1 C188.3,681.4 187.4,682.3 186.8,682.7 C186.2,683.0 185.2,683.2 184.9,683.3 M178.9,680.4 C178.5,680.8 177.4,682.1 176.6,682.7 C175.8,683.4 174.7,683.9 174.3,684.2 M169.0,679.9 C168.6,679.5 167.5,678.5 166.9,678.0 C166.2,677.4 165.2,676.9 164.9,676.7 M170.9,684.9 C170.9,685.5 170.8,687.2 170.8,688.1 C170.9,689.0 171.3,690.2 171.4,690.6"/>
<path style="stroke-width:1.6" d="M255.5,678.4 C254.6,678.2 251.8,677.3 250.2,677.0 C248.5,676.8 246.4,676.9 245.7,676.8 M248.0,682.3 C247.7,683.3 247.0,686.3 246.4,688.0 C245.7,689.7 244.6,691.6 244.3,692.3 M241.3,685.1 C240.6,685.0 238.5,684.5 237.3,684.4 C236.1,684.4 234.6,684.9 234.0,685.0 M234.2,688.1 C233.9,688.6 233.1,690.4 232.4,691.2 C231.7,692.1 230.6,692.9 230.2,693.2 M223.7,692.7 C223.0,692.5 220.7,691.6 219.3,691.4 C217.9,691.2 216.2,691.7 215.6,691.7 M217.7,695.4 C216.8,695.0 214.2,693.5 212.6,693.1 C211.0,692.8 208.8,693.1 208.0,693.1 M210.1,699.0 C209.7,699.6 208.4,701.7 207.6,702.9 C206.8,704.0 205.6,705.3 205.2,705.8 M204.2,702.2 C203.7,702.2 201.8,702.1 200.7,702.1 C199.7,702.1 198.4,702.3 197.9,702.4"/>
<path style="stroke-width:1.6" d="M198.7,705.3 C198.4,705.8 197.4,707.4 196.8,708.3 C196.2,709.2 195.3,710.2 195.0,710.6 M189.1,710.6 C188.6,710.6 186.9,710.5 185.9,710.5 C185.0,710.6 183.8,711.0 183.4,711.1 M181.9,714.6 C181.7,715.6 181.3,718.8 180.7,720.5 C180.2,722.2 178.9,724.2 178.5,724.9 M173.8,718.4 C173.3,718.3 171.4,718.0 170.3,717.9 C169.3,717.9 168.0,718.1 167.5,718.1 M163.7,722.2 C163.1,722.9 161.1,725.4 159.7,726.5 C158.4,727.6 156.3,728.4 155.6,728.8 M156.8,723.1 C156.1,722.8 154.1,721.7 152.8,721.5 C151.6,721.3 150.0,721.8 149.4,721.9 M254.7,685.7 C254.7,686.4 254.9,688.7 254.6,689.9 C254.4,691.1 253.4,692.5 253.2,693.1 M248.6,690.9 C247.6,690.7 244.6,689.5 242.8,689.3 C241.1,689.2 238.8,690.0 238.0,690.1"/>
<path style="stroke-width:1.6" d="M239.7,696.8 C239.2,696.7 237.6,696.1 236.7,696.0 C235.8,696.0 234.6,696.2 234.2,696.2 M232.8,701.3 C232.5,701.7 231.7,703.3 231.1,704.1 C230.6,704.9 229.6,705.8 229.3,706.1 M224.4,706.8 C224.0,707.6 223.1,710.7 222.1,712.1 C221.1,713.5 219.0,714.6 218.4,715.1 M214.3,712.2 C213.8,712.2 212.2,712.0 211.2,712.0 C210.3,712.0 209.2,712.3 208.7,712.3 M207.8,715.7 C207.6,716.6 207.3,719.5 206.9,721.1 C206.4,722.6 205.2,724.4 204.9,725.1 M198.9,719.8 C198.3,720.4 196.7,722.4 195.5,723.2 C194.4,723.9 192.5,724.2 191.9,724.4 M188.8,722.8 C188.6,723.2 187.8,724.6 187.2,725.2 C186.6,725.8 185.5,726.3 185.2,726.5 M181.1,725.2 C180.9,725.7 180.3,727.7 179.8,728.7 C179.3,729.7 178.4,730.8 178.1,731.2"/>
<path style="stroke-width:1.6" d="M170.1,728.4 C169.7,728.3 168.3,727.9 167.5,727.8 C166.7,727.7 165.7,727.6 165.3,727.6 M159.9,732.7 C159.0,732.7 156.0,732.4 154.5,732.7 C153.0,733.1 151.3,734.4 150.6,734.8 M151.3,737.6 C151.2,738.1 150.8,739.4 150.5,740.2 C150.2,741.0 149.7,741.9 149.5,742.2 M141.6,743.8 C140.6,743.7 137.6,743.0 135.9,743.0 C134.1,742.9 131.9,743.5 131.2,743.6 M260.7,686.1 C260.6,686.6 260.5,688.3 260.2,689.2 C259.9,690.1 259.1,691.0 258.9,691.4 M255.4,691.7 C254.5,691.9 251.5,692.6 249.9,693.3 C248.3,694.0 246.6,695.3 245.9,695.7 M248.8,697.4 C248.8,698.0 248.9,700.1 248.7,701.2 C248.4,702.3 247.5,703.5 247.2,704.0 M241.6,702.8 C241.2,702.8 240.0,702.6 239.3,702.7 C238.6,702.7 237.8,703.0 237.5,703.0"/>
<path style="stroke-width:1.6" d="M235.6,707.0 C235.5,707.5 235.4,709.0 235.2,709.8 C234.9,710.7 234.3,711.6 234.1,712.0 M227.0,712.4 C226.3,712.4 224.0,712.1 222.8,712.2 C221.5,712.3 220.0,713.0 219.5,713.1 M219.1,719.3 C219.1,719.8 219.2,721.5 219.2,722.4 C219.1,723.4 218.8,724.5 218.7,725.0 M212.3,727.2 C211.4,727.3 208.6,727.4 207.2,727.9 C205.8,728.4 204.3,729.8 203.7,730.2 M207.6,734.5 C207.7,735.2 208.3,737.4 208.3,738.6 C208.3,739.9 207.7,741.4 207.6,742.0 M266.8,686.2 C267.0,686.9 268.2,689.3 268.4,690.8 C268.6,692.2 268.1,694.1 268.0,694.7 M260.6,695.7 C259.6,696.0 256.5,696.5 254.9,697.2 C253.4,698.0 251.9,699.8 251.3,700.3 M256.7,701.6 C256.7,702.0 256.9,703.3 256.9,704.1 C256.9,704.8 256.8,705.7 256.7,706.1"/>
<path style="stroke-width:1.6" d="M253.0,707.2 C252.1,707.3 249.1,707.6 247.4,708.0 C245.7,708.3 243.7,709.1 243.0,709.3 M247.4,715.6 C247.3,716.6 247.4,719.6 247.0,721.2 C246.5,722.8 245.0,724.5 244.6,725.1 M243.0,721.7 C243.0,722.4 243.3,724.7 243.1,725.8 C242.8,727.0 241.8,728.3 241.5,728.8 M236.6,730.4 C235.9,730.6 233.7,731.0 232.5,731.5 C231.3,731.9 230.0,732.8 229.5,733.1 M232.2,736.3 C232.3,736.7 232.6,737.9 232.6,738.5 C232.7,739.2 232.4,740.1 232.4,740.4 M227.2,743.4 C226.4,743.6 224.0,744.3 222.8,744.9 C221.6,745.5 220.3,746.8 219.8,747.1 M223.0,748.6 C222.0,748.5 218.9,748.2 217.1,748.2 C215.3,748.2 213.1,748.5 212.3,748.6 M217.6,754.0 C217.6,754.6 217.8,756.3 217.7,757.3 C217.7,758.2 217.5,759.5 217.5,759.9"/>
<path style="stroke-width:1.6" d="M212.5,760.9 C212.7,761.4 213.3,763.0 213.6,763.9 C213.8,764.8 214.0,766.1 214.0,766.5 M267.0,693.3 C267.0,693.7 267.2,695.0 267.1,695.8 C267.0,696.5 266.6,697.3 266.5,697.6 M263.3,701.1 C262.5,701.3 260.0,701.6 258.7,702.1 C257.5,702.6 256.2,704.0 255.7,704.3 M260.4,707.2 C259.7,707.8 257.2,709.4 256.0,710.5 C254.8,711.7 253.7,713.6 253.3,714.2 M257.6,714.8 C257.9,715.3 258.8,716.7 259.3,717.6 C259.8,718.4 260.2,719.6 260.4,720.0 M254.5,723.4 C254.1,723.8 252.9,724.7 252.3,725.3 C251.7,725.9 251.0,726.7 250.8,727.0 M251.8,730.3 C251.9,731.2 252.6,733.8 252.7,735.4 C252.9,736.9 252.6,738.9 252.6,739.6 M248.1,738.6 C247.8,738.7 246.7,739.3 246.2,739.7 C245.6,740.1 245.0,740.7 244.8,740.9"/>
<path style="stroke-width:1.6" d="M245.5,744.4 C245.7,744.9 246.3,746.3 246.4,747.2 C246.6,748.0 246.5,749.2 246.5,749.6 M241.9,755.1 C241.3,755.4 239.3,756.0 238.3,756.6 C237.3,757.2 236.3,758.3 235.9,758.6 M240.1,765.5 C240.7,766.0 243.0,767.5 243.8,768.6 C244.7,769.8 245.0,771.7 245.3,772.3 M241.5,773.5 C242.1,774.0 244.2,775.3 245.3,776.2 C246.3,777.1 247.3,778.6 247.8,779.1 M241.3,781.4 C241.0,781.7 239.9,782.4 239.4,783.0 C238.9,783.5 238.6,784.4 238.4,784.7 M238.4,788.5 C238.5,789.4 239.1,792.3 238.9,793.9 C238.8,795.5 237.6,797.4 237.4,798.1 M269.4,702.3 C269.6,702.9 270.4,704.8 270.7,705.9 C271.0,707.1 271.1,708.6 271.2,709.1 M267.1,713.5 C267.3,714.0 268.2,715.5 268.4,716.4 C268.6,717.3 268.3,718.5 268.3,718.9"/>
<path style="stroke-width:1.6" d="M264.8,721.1 C264.4,721.6 262.9,722.9 262.3,723.9 C261.7,724.8 261.2,726.1 261.0,726.6 M262.2,729.8 C262.3,730.1 262.9,731.2 263.1,731.8 C263.3,732.5 263.4,733.3 263.5,733.6 M260.3,736.3 C260.0,736.6 259.1,737.4 258.7,737.9 C258.2,738.5 257.9,739.3 257.7,739.5 M258.1,743.5 C258.4,744.3 259.8,746.7 260.2,748.2 C260.6,749.6 260.4,751.6 260.4,752.3 M255.2,753.3 C255.4,753.8 256.2,755.5 256.4,756.5 C256.5,757.5 256.0,758.8 256.0,759.3 M253.1,760.1 C252.8,760.3 251.6,760.8 251.0,761.2 C250.5,761.7 250.1,762.5 249.9,762.8 M249.7,770.6 C250.1,771.4 251.5,773.9 252.1,775.4 C252.7,776.9 253.2,778.9 253.4,779.6 M246.5,779.2 C245.7,779.5 242.9,780.2 241.5,781.0 C240.2,781.8 239.0,783.5 238.4,784.0"/>
<path style="stroke-width:1.6" d="M243.3,788.1 C242.5,788.4 240.1,789.4 238.9,790.1 C237.6,790.9 236.2,792.1 235.6,792.5 M241.1,794.2 C241.2,794.6 241.8,795.9 241.8,796.7 C241.9,797.4 241.6,798.4 241.5,798.8 M238.0,802.9 C237.3,803.3 234.9,804.3 233.7,805.1 C232.5,805.9 231.3,807.4 230.8,807.8 M235.8,808.9 C235.2,809.2 233.1,809.9 232.0,810.5 C231.0,811.2 229.9,812.4 229.5,812.7 M271.9,719.7 C272.2,720.3 273.4,722.1 273.8,723.2 C274.2,724.4 274.2,726.0 274.3,726.5 M270.5,730.0 C270.2,730.3 269.1,731.1 268.5,731.6 C268.0,732.1 267.4,732.8 267.1,733.1 M269.5,737.6 C269.8,738.3 270.9,740.3 271.5,741.6 C272.0,742.8 272.5,744.3 272.7,744.9 M268.6,744.2 C268.0,744.7 265.7,746.1 264.7,747.2 C263.7,748.2 263.0,750.0 262.7,750.6"/>
<path style="stroke-width:1.6" d="M267.6,752.0 C267.9,752.6 269.1,754.4 269.7,755.4 C270.2,756.5 270.7,757.9 270.9,758.4 M266.1,763.0 C265.3,763.5 262.5,765.0 261.0,765.9 C259.6,766.8 257.8,768.2 257.2,768.6 M265.1,771.8 C264.5,772.1 262.6,773.0 261.6,773.7 C260.7,774.4 259.6,775.5 259.2,775.8 M264.2,779.1 C263.7,779.7 262.2,781.5 261.4,782.6 C260.6,783.7 259.9,785.2 259.6,785.8 M263.5,788.2 C263.0,789.0 261.2,791.3 260.5,792.7 C259.8,794.2 259.5,796.2 259.3,796.9 M262.7,799.3 C263.2,800.1 264.8,802.7 265.4,804.3 C266.1,805.9 266.2,808.0 266.4,808.8 M262.3,805.7 C261.9,806.2 260.3,807.6 259.6,808.6 C258.9,809.5 258.2,810.9 257.9,811.3 M279.6,707.2 C280.2,707.7 282.5,709.2 283.4,710.3 C284.3,711.5 284.8,713.4 285.0,714.0"/>
<path style="stroke-width:1.6" d="M279.0,723.4 C279.4,723.9 280.8,725.3 281.4,726.2 C282.0,727.1 282.4,728.4 282.6,728.8 M278.8,731.2 C278.3,732.0 276.7,734.4 276.0,735.9 C275.3,737.4 274.9,739.4 274.6,740.1 M278.4,742.6 C278.8,743.2 280.0,745.0 280.6,746.1 C281.1,747.3 281.6,748.8 281.8,749.3 M278.1,750.9 C278.8,751.5 281.1,753.2 282.1,754.4 C283.2,755.6 283.9,757.5 284.3,758.2 M277.1,762.1 C277.6,762.7 279.2,764.8 280.0,766.1 C280.8,767.4 281.7,769.1 282.0,769.7 M276.1,772.3 C275.5,772.7 273.4,774.1 272.4,775.1 C271.3,776.0 270.3,777.5 269.9,778.0 M275.4,778.8 C275.1,779.4 273.7,781.0 273.1,782.1 C272.5,783.2 272.1,784.6 271.9,785.2 M274.5,786.7 C274.9,787.0 276.2,788.1 276.8,788.9 C277.3,789.6 277.7,790.8 277.9,791.2"/>
<path style="stroke-width:1.6" d="M273.4,794.5 C273.1,794.8 272.0,795.9 271.4,796.5 C270.9,797.2 270.3,798.1 270.1,798.4 M272.4,801.9 C272.1,802.2 270.7,803.2 270.2,803.9 C269.7,804.7 269.4,805.9 269.3,806.2 M287.2,717.9 C287.6,718.4 289.0,719.8 289.6,720.8 C290.2,721.8 290.6,723.2 290.8,723.7 M287.5,726.2 C287.3,726.7 286.3,728.2 286.1,729.2 C285.9,730.1 286.2,731.4 286.2,731.8 M287.7,733.2 C288.4,733.8 290.6,735.8 291.7,737.0 C292.8,738.3 293.9,740.1 294.3,740.7 M288.0,740.9 C287.6,741.5 286.2,743.1 285.7,744.1 C285.3,745.2 285.4,746.8 285.3,747.3 M288.4,751.8 C288.2,752.2 287.6,753.3 287.4,753.9 C287.2,754.6 287.3,755.5 287.3,755.8 M289.1,762.9 C289.3,763.2 290.2,763.9 290.7,764.5 C291.1,765.0 291.5,765.7 291.6,766.0"/>
<path style="stroke-width:1.6" d="M289.8,774.2 C290.6,774.8 293.3,776.5 294.6,777.7 C296.0,778.9 297.4,780.7 297.9,781.3 M290.3,781.1 C289.8,781.7 288.0,783.7 287.4,784.9 C286.8,786.2 286.8,788.2 286.7,788.8 M291.0,791.3 C291.5,791.7 293.2,792.9 294.1,793.7 C294.9,794.6 295.5,796.0 295.8,796.4 M291.4,797.8 C292.0,798.5 294.0,800.9 294.8,802.4 C295.6,803.9 295.8,806.2 296.1,806.9 M291.9,805.7 C291.5,806.4 290.1,808.4 289.6,809.7 C289.2,811.0 289.2,812.9 289.2,813.5 M294.8,698.4 C295.3,698.9 296.9,700.3 297.5,701.3 C298.1,702.3 298.2,703.9 298.4,704.4 M296.2,708.1 C296.0,708.5 295.1,710.0 294.9,710.9 C294.7,711.8 295.1,713.1 295.1,713.5 M300.0,734.3 C300.5,734.9 302.4,736.6 303.1,737.8 C303.8,739.1 303.9,741.0 304.1,741.6"/>
<path style="stroke-width:1.6" d="M301.0,741.7 C300.7,742.3 299.6,744.0 299.3,745.1 C298.9,746.2 299.0,747.7 299.0,748.2 M302.1,749.0 C301.6,749.5 300.2,751.2 299.5,752.2 C298.8,753.3 298.1,754.7 297.9,755.2 M303.7,760.4 C304.1,760.7 305.6,761.5 306.3,762.1 C307.1,762.7 307.8,763.5 308.1,763.8 M305.2,770.7 C304.7,771.2 303.1,772.7 302.3,773.6 C301.5,774.6 300.7,775.9 300.4,776.4 M306.0,778.2 C306.7,778.8 309.2,780.7 310.5,781.9 C311.8,783.1 313.1,784.9 313.7,785.5 M306.8,786.6 C306.5,786.9 305.3,787.8 304.8,788.4 C304.2,789.0 303.5,789.8 303.3,790.1 M307.5,793.2 C308.2,793.7 310.9,795.1 312.2,796.2 C313.4,797.3 314.3,799.3 314.8,800.0 M308.6,804.8 C308.9,805.2 310.1,806.2 310.5,807.0 C310.9,807.7 311.0,808.9 311.1,809.3"/>
<path style="stroke-width:1.6" d="M270.1,687.2 C270.2,687.8 270.5,689.6 270.5,690.7 C270.6,691.7 270.4,693.1 270.4,693.5 M267.0,692.7 C266.1,693.1 263.2,694.3 261.6,695.1 C260.1,696.0 258.3,697.3 257.6,697.8 M263.4,703.5 C263.8,704.3 265.3,706.9 265.6,708.4 C266.0,710.0 265.6,712.1 265.6,712.8 M261.7,712.0 C261.2,712.4 259.5,713.4 258.8,714.3 C258.1,715.1 257.8,716.5 257.6,717.0 M260.1,719.2 C260.4,719.5 261.1,720.4 261.5,721.1 C261.8,721.7 262.0,722.5 262.1,722.8 M257.1,729.4 C257.1,729.8 257.4,731.0 257.5,731.7 C257.6,732.4 257.6,733.3 257.6,733.6 M253.8,740.2 C252.9,740.6 250.1,741.7 248.7,742.6 C247.2,743.5 245.7,745.0 245.1,745.5 M251.5,747.6 C251.0,747.8 249.4,748.6 248.7,749.2 C247.9,749.8 247.3,750.9 247.0,751.2"/>
<path style="stroke-width:1.6" d="M249.6,755.3 C249.9,756.1 251.2,758.6 251.4,760.1 C251.6,761.6 251.0,763.6 250.9,764.3 M248.6,765.0 C248.8,765.5 249.5,767.0 249.7,767.9 C250.0,768.8 249.9,770.0 249.9,770.4 M247.5,776.4 C247.8,776.9 248.8,778.3 249.1,779.1 C249.5,780.0 249.7,781.2 249.8,781.6 M246.6,785.3 C247.0,786.1 248.5,788.6 248.9,790.1 C249.3,791.6 249.0,793.7 249.1,794.5 M245.5,796.0 C245.9,796.5 247.1,797.9 247.7,798.8 C248.2,799.7 248.6,800.9 248.8,801.4 M276.5,711.7 C276.7,712.0 277.2,713.1 277.4,713.8 C277.6,714.5 277.5,715.4 277.5,715.7 M275.7,719.7 C276.2,720.0 277.5,721.1 278.2,721.8 C278.9,722.5 279.6,723.5 279.9,723.8 M275.1,726.5 C274.6,726.9 272.9,728.1 272.0,728.9 C271.2,729.7 270.3,730.9 270.0,731.4"/>
<path style="stroke-width:1.6" d="M274.3,735.0 C274.9,735.6 276.8,737.6 277.6,738.9 C278.3,740.2 278.4,742.2 278.6,742.9 M273.4,744.8 C272.9,745.1 271.4,746.0 270.7,746.7 C269.9,747.4 269.3,748.6 269.0,748.9 M272.8,753.1 C273.0,753.6 273.9,755.0 274.2,755.9 C274.6,756.8 274.8,758.0 275.0,758.4 M272.3,760.2 C272.6,760.7 273.9,762.1 274.4,762.9 C275.0,763.8 275.4,765.1 275.5,765.5 M271.5,771.9 C270.9,772.6 269.1,774.8 268.4,776.2 C267.7,777.6 267.5,779.7 267.3,780.4 M270.9,783.5 C271.4,784.2 273.4,786.4 274.1,787.8 C274.7,789.2 274.8,791.4 274.9,792.1 M270.3,794.7 C270.1,795.1 269.1,796.2 268.7,796.8 C268.3,797.5 267.9,798.5 267.7,798.8 M269.7,806.3 C270.2,806.7 271.8,807.8 272.5,808.6 C273.2,809.5 273.5,810.9 273.7,811.3"/>
<path style="stroke-width:1.6" d="M283.0,702.0 C282.7,702.7 281.5,704.8 281.1,706.1 C280.7,707.3 280.7,709.1 280.7,709.7 M283.5,724.2 C283.9,724.6 285.0,725.7 285.6,726.4 C286.2,727.1 286.8,728.0 287.0,728.3 M283.4,732.3 C283.1,732.8 282.0,734.2 281.6,735.2 C281.1,736.1 280.7,737.3 280.5,737.7 M283.2,742.9 C283.4,743.3 284.1,744.5 284.3,745.2 C284.6,745.9 284.7,746.9 284.8,747.3 M283.5,752.1 C283.3,752.6 282.5,753.9 282.3,754.7 C282.1,755.5 282.2,756.6 282.2,757.0 M284.0,760.6 C284.6,761.4 286.7,763.8 287.6,765.3 C288.5,766.8 289.3,768.9 289.6,769.6 M284.5,770.0 C284.0,770.7 282.0,773.0 281.4,774.5 C280.8,776.0 281.0,778.3 281.0,779.0 M284.5,778.2 C284.8,778.6 286.0,779.7 286.6,780.3 C287.2,781.0 287.9,781.9 288.1,782.2"/>
<path style="stroke-width:1.6" d="M284.2,789.4 C283.7,789.8 282.0,790.9 281.3,791.8 C280.6,792.6 280.2,794.1 280.0,794.6 M284.0,798.2 C284.3,798.8 285.4,800.9 285.8,802.1 C286.1,803.3 286.0,805.0 286.0,805.6 M225.3,689.4 C224.7,689.7 222.9,691.0 221.7,691.5 C220.6,692.1 219.1,692.6 218.6,692.8 M217.5,688.7 C217.2,688.4 216.6,687.1 216.0,686.5 C215.5,685.9 214.7,685.4 214.4,685.1 M206.9,688.1 C206.5,687.9 205.1,687.3 204.3,687.2 C203.6,687.1 202.5,687.4 202.2,687.5 M195.6,690.5 C194.8,691.1 192.6,693.2 191.1,694.1 C189.7,695.1 187.5,695.8 186.8,696.1 M185.5,695.2 C185.0,695.0 183.7,694.3 182.9,694.1 C182.1,693.9 181.0,694.2 180.6,694.2 M178.3,697.3 C177.9,698.1 176.6,700.7 175.7,702.1 C174.9,703.4 173.5,704.9 173.0,705.5"/>
<path style="stroke-width:1.6" d="M171.2,699.4 C170.6,699.2 168.8,698.6 167.7,698.3 C166.6,698.1 165.2,698.0 164.7,697.9 M164.1,702.0 C163.9,702.3 163.2,703.3 162.6,703.8 C162.1,704.3 161.3,704.7 161.0,704.9 M207.0,700.0 C206.3,699.9 203.9,699.4 202.6,699.4 C201.2,699.4 199.5,700.0 198.9,700.1 M198.0,703.3 C197.5,703.9 196.4,706.0 195.5,707.0 C194.6,708.0 193.2,709.0 192.7,709.4 M188.7,706.6 C188.3,706.5 187.1,706.0 186.5,705.9 C185.8,705.8 184.9,706.0 184.6,706.0 M180.4,710.0 C180.1,710.8 179.6,713.5 179.0,715.0 C178.4,716.4 177.1,718.0 176.7,718.6 M173.9,713.2 C173.4,713.2 172.0,713.0 171.2,713.1 C170.4,713.2 169.4,713.5 169.0,713.6 M167.4,714.8 C167.1,715.1 166.3,716.1 165.8,716.5 C165.2,716.9 164.3,717.2 164.0,717.4"/>
<path style="stroke-width:1.6" d="M218.7,711.9 C218.3,711.9 217.0,711.8 216.3,712.0 C215.6,712.1 214.8,712.5 214.5,712.6 M212.7,717.6 C211.8,717.9 208.8,718.3 207.3,719.1 C205.9,719.8 204.6,721.7 204.1,722.2 M206.2,725.4 C205.4,726.0 202.5,727.5 201.2,728.6 C199.8,729.8 198.5,731.7 197.9,732.3 M201.4,735.8 C200.7,736.4 198.3,738.0 197.4,739.3 C196.5,740.5 196.1,742.6 195.8,743.2 M247.4,683.4 C246.5,683.4 243.5,683.3 241.8,683.4 C240.1,683.6 238.0,684.2 237.3,684.4 M238.4,689.1 C238.2,690.1 237.5,693.1 237.0,694.7 C236.4,696.3 235.3,698.2 235.0,699.0 M232.1,693.6 C231.7,693.6 230.5,693.6 229.8,693.6 C229.1,693.7 228.2,693.9 227.9,694.0 M226.4,697.9 C225.4,697.8 222.5,697.4 220.8,697.4 C219.1,697.4 216.9,697.7 216.2,697.7"/>
<path style="stroke-width:1.6" d="M218.3,704.7 C218.2,705.4 217.9,707.9 217.5,709.3 C217.2,710.6 216.3,712.2 216.0,712.8 M211.2,713.0 C210.2,713.2 207.3,713.5 205.6,713.9 C204.0,714.3 202.0,715.0 201.3,715.3 M206.2,723.5 C206.4,724.3 207.3,727.0 207.5,728.6 C207.8,730.1 207.8,732.1 207.8,732.9 M188.8,703.4 C188.2,703.5 186.1,704.0 185.0,704.1 C183.8,704.2 182.3,704.1 181.8,704.1 M180.3,697.5 C180.2,697.0 180.2,695.3 179.9,694.4 C179.6,693.5 178.9,692.5 178.7,692.1 M171.4,690.1 C170.9,690.1 169.1,690.2 168.0,690.2 C167.0,690.3 165.7,690.1 165.2,690.1 M168.8,684.4 C169.1,683.8 170.2,682.0 170.6,680.9 C170.9,679.8 171.0,678.3 171.1,677.8 M193.5,729.7 C193.6,730.1 193.9,731.3 194.0,731.9 C194.1,732.6 194.1,733.5 194.1,733.8"/>
<path style="stroke-width:1.6" d="M189.3,736.7 C188.9,737.0 187.3,737.6 186.6,738.1 C185.8,738.7 185.1,739.7 184.9,740.0 M185.1,745.2 C185.2,745.9 185.8,747.9 185.9,749.1 C186.1,750.3 186.1,751.9 186.2,752.4 M240.2,721.4 C239.7,722.0 238.5,724.3 237.5,725.2 C236.5,726.2 234.7,726.8 234.2,727.1 M234.2,729.5 C233.9,729.7 232.8,730.3 232.3,730.7 C231.8,731.1 231.3,731.9 231.1,732.1 M230.1,737.9 C230.3,738.5 231.4,740.4 231.6,741.5 C231.9,742.6 231.5,744.1 231.4,744.7 M226.5,747.5 C226.1,747.6 224.8,747.9 224.2,748.2 C223.6,748.6 222.9,749.2 222.6,749.4 M223.2,755.3 C223.2,756.2 223.3,759.0 223.3,760.5 C223.2,762.1 223.0,764.1 222.9,764.8 M228.7,740.9 C228.6,741.7 228.6,744.1 228.2,745.4 C227.9,746.7 227.1,748.3 226.8,748.9"/>
<path style="stroke-width:1.6" d="M221.8,747.4 C221.9,747.9 222.3,749.7 222.4,750.7 C222.5,751.7 222.3,753.0 222.3,753.5 M219.5,753.5 C219.9,754.2 221.2,756.5 221.8,757.9 C222.5,759.3 223.1,761.0 223.3,761.7 M213.5,761.4 C212.7,761.1 210.2,760.0 208.8,759.6 C207.3,759.2 205.3,759.3 204.6,759.3 M248.0,729.9 C247.6,730.3 246.4,731.7 245.5,732.3 C244.7,732.9 243.3,733.2 242.9,733.4 M243.0,738.3 C243.2,738.8 243.9,740.4 244.1,741.3 C244.3,742.3 244.1,743.5 244.1,744.0 M240.4,746.5 C240.7,746.9 241.7,748.4 242.0,749.3 C242.3,750.2 242.3,751.4 242.4,751.9 M238.2,757.8 C237.8,757.9 236.7,758.4 236.2,758.8 C235.6,759.2 235.0,759.8 234.7,760.0 M252.9,756.0 C252.4,756.1 250.5,756.5 249.6,756.9 C248.7,757.4 247.9,758.5 247.5,758.8"/>
<path style="stroke-width:1.6" d="M249.3,763.2 C249.7,763.9 250.9,766.0 251.3,767.4 C251.7,768.7 251.5,770.5 251.5,771.1 M244.9,772.0 C245.1,772.9 246.0,775.7 246.1,777.3 C246.2,778.9 245.5,781.0 245.4,781.7 M240.2,781.9 C239.5,782.2 237.3,782.9 236.1,783.5 C234.9,784.1 233.6,785.1 233.1,785.5 M237.4,788.8 C237.4,789.7 237.9,792.7 237.9,794.4 C237.9,796.2 237.6,798.3 237.6,799.1 M289.6,706.8 C290.0,707.0 291.1,707.6 291.7,708.1 C292.2,708.6 292.7,709.4 293.0,709.7 M291.2,714.9 C291.6,715.1 292.8,715.6 293.4,716.0 C294.0,716.5 294.4,717.4 294.6,717.6 M293.4,725.9 C293.8,726.3 294.8,727.5 295.4,728.2 C295.9,728.9 296.4,729.9 296.7,730.3 M294.7,732.3 C295.4,732.7 297.7,733.7 298.7,734.6 C299.8,735.5 300.6,737.2 301.0,737.7"/>
<path style="stroke-width:1.6" d="M296.6,741.8 C296.5,742.2 295.9,743.5 295.8,744.3 C295.7,745.0 296.0,746.0 296.0,746.4 M298.1,749.1 C298.3,749.3 299.3,750.1 299.8,750.6 C300.3,751.1 300.7,751.8 300.9,752.0 M299.8,756.7 C299.6,757.2 298.7,758.9 298.5,759.9 C298.3,760.9 298.7,762.2 298.8,762.7 M302.0,765.5 C301.8,765.8 301.1,766.8 300.8,767.5 C300.6,768.1 300.4,769.0 300.4,769.3 M304.1,773.9 C303.8,774.6 302.6,777.0 302.3,778.4 C301.9,779.9 302.0,781.8 302.0,782.4 M305.9,781.1 C305.7,782.0 304.8,784.7 304.6,786.3 C304.3,787.9 304.3,789.9 304.2,790.7 M307.4,787.2 C308.3,787.7 311.1,789.1 312.7,790.1 C314.2,791.0 316.0,792.3 316.7,792.8 M308.8,796.0 C308.4,796.4 307.3,797.5 306.8,798.2 C306.3,798.9 305.9,800.0 305.7,800.3"/>
<path style="stroke-width:1.6" d="M309.6,804.2 C309.1,805.0 307.5,807.7 306.9,809.4 C306.2,811.0 305.8,813.2 305.6,814.0 M295.2,687.6 C295.9,688.0 298.3,689.1 299.4,690.1 C300.5,691.0 301.3,692.8 301.7,693.3 M305.7,734.2 C305.3,734.7 303.9,736.4 303.3,737.5 C302.7,738.6 302.2,740.1 302.0,740.6 M308.7,744.9 C309.2,745.3 311.3,746.4 312.2,747.2 C313.1,748.1 313.8,749.7 314.1,750.2 M311.7,754.8 C311.5,755.3 310.9,757.0 310.6,758.1 C310.3,759.1 310.2,760.4 310.1,760.8 M314.9,765.2 C315.3,765.4 316.7,765.9 317.5,766.4 C318.2,766.9 318.9,767.7 319.2,767.9 M316.7,775.5 C316.4,776.1 315.4,778.0 315.1,779.1 C314.9,780.3 315.3,781.8 315.4,782.4 M317.6,783.0 C318.1,783.6 320.1,785.4 320.8,786.7 C321.5,788.0 321.7,789.9 321.9,790.6"/>
<path style="stroke-width:1.6" d="M318.4,790.1 C318.1,790.6 317.1,792.2 316.8,793.2 C316.5,794.1 316.4,795.5 316.3,796.0 M319.1,797.2 C319.7,798.0 321.9,800.4 322.7,801.9 C323.5,803.5 323.8,805.9 324.0,806.6 M319.8,804.0 C320.2,804.5 321.5,806.0 321.9,807.0 C322.4,808.0 322.2,809.5 322.3,810.0 M281.9,718.9 C282.3,719.4 283.5,720.9 284.2,721.8 C284.9,722.7 285.5,723.9 285.8,724.3 M282.9,727.3 C283.5,727.7 285.4,728.9 286.2,729.8 C287.1,730.7 287.7,732.2 288.0,732.6 M284.0,736.0 C283.7,736.5 282.3,738.1 281.9,739.1 C281.4,740.1 281.3,741.6 281.2,742.1 M285.5,747.1 C286.2,747.7 288.4,749.3 289.4,750.4 C290.4,751.5 291.4,753.3 291.8,753.8 M286.5,754.6 C285.9,755.2 283.8,757.1 283.0,758.4 C282.1,759.6 281.7,761.6 281.4,762.3"/>
<path style="stroke-width:1.6" d="M288.5,765.3 C289.1,765.6 291.0,766.5 292.0,767.2 C292.9,767.9 294.0,769.0 294.4,769.3 M291.3,774.6 C291.0,775.4 289.8,777.9 289.5,779.4 C289.2,780.9 289.6,783.0 289.6,783.7 M294.2,783.8 C294.7,784.2 296.6,785.3 297.4,786.1 C298.3,786.9 299.0,788.3 299.3,788.7 M296.0,792.1 C295.6,792.5 294.5,793.5 294.0,794.3 C293.5,795.0 293.2,796.1 293.1,796.5 M297.7,802.5 C298.4,803.1 300.9,805.1 302.2,806.4 C303.5,807.6 305.0,809.4 305.5,810.0 M312.4,705.4 C313.2,705.6 316.0,706.3 317.5,707.0 C318.9,707.7 320.5,709.2 321.1,709.6 M316.4,712.9 C316.2,713.5 315.4,715.3 315.3,716.4 C315.1,717.5 315.5,718.9 315.6,719.4 M319.1,719.3 C319.5,719.6 320.9,720.7 321.5,721.4 C322.2,722.2 322.7,723.3 323.0,723.7"/>
<path style="stroke-width:1.6" d="M324.4,733.3 C324.2,733.8 323.7,735.4 323.5,736.4 C323.3,737.3 323.3,738.6 323.3,739.0 M328.0,742.9 C327.8,743.4 327.1,744.9 326.9,745.8 C326.8,746.6 327.1,747.8 327.1,748.2 M330.5,750.9 C331.1,751.5 333.3,753.3 334.2,754.6 C335.0,755.8 335.5,757.9 335.7,758.5 M333.2,760.3 C332.9,760.7 332.0,762.2 331.8,763.0 C331.6,763.9 331.9,765.1 331.9,765.6 M335.4,768.2 C336.2,768.6 338.9,769.6 340.3,770.4 C341.6,771.3 343.0,772.8 343.5,773.3 M337.0,775.9 C336.7,776.7 335.5,779.4 335.1,780.9 C334.7,782.5 334.6,784.6 334.5,785.3 M338.6,786.7 C339.0,787.0 340.3,788.2 340.9,788.9 C341.5,789.7 341.9,790.8 342.2,791.2 M339.7,793.9 C339.4,794.3 338.2,795.6 337.7,796.5 C337.2,797.3 336.7,798.5 336.5,798.9"/>
<path style="stroke-width:1.6" d="M340.9,801.7 C341.4,802.3 343.4,803.8 344.3,804.9 C345.1,806.0 345.6,807.8 345.9,808.4 M312.1,695.8 C312.2,696.7 312.3,699.6 312.8,701.1 C313.3,702.7 314.5,704.4 314.9,705.0 M322.9,709.9 C323.3,710.1 324.7,710.6 325.4,711.0 C326.2,711.4 327.0,712.1 327.3,712.3 M332.9,724.4 C333.7,724.8 336.6,725.9 337.9,726.9 C339.3,727.9 340.6,729.7 341.1,730.2 M338.6,733.2 C338.3,734.1 337.1,736.7 336.9,738.2 C336.7,739.7 337.3,741.7 337.4,742.4 M342.6,739.4 C343.4,739.7 346.0,740.2 347.4,740.8 C348.8,741.4 350.4,742.7 350.9,743.0 M346.8,749.6 C346.7,750.1 346.2,751.7 346.0,752.6 C345.9,753.5 345.9,754.7 345.8,755.1 M349.8,758.0 C350.2,758.3 351.5,759.0 352.2,759.5 C352.8,760.0 353.4,760.9 353.7,761.2"/>
<path style="stroke-width:1.6" d="M352.8,766.5 C352.6,766.8 351.9,767.8 351.7,768.4 C351.5,769.0 351.5,769.9 351.5,770.2 M353.6,775.3 C354.3,775.9 356.5,777.7 357.6,778.9 C358.7,780.2 359.6,782.0 360.0,782.7 M354.0,783.8 C354.4,784.5 355.8,786.5 356.3,787.8 C356.9,789.1 356.9,790.9 357.0,791.6 M354.3,790.3 C353.6,791.0 351.4,793.1 350.4,794.5 C349.3,795.9 348.4,797.9 348.0,798.6 M354.8,801.8 C355.4,802.5 357.5,804.7 358.6,806.0 C359.7,807.4 360.9,809.2 361.3,809.8 M353.2,673.3 C353.6,672.8 354.7,671.1 355.5,670.3 C356.3,669.5 357.6,668.8 358.0,668.5 M372.5,673.5 C373.0,673.2 374.5,672.2 375.4,671.7 C376.3,671.2 377.6,670.9 378.0,670.8 M381.9,674.3 C382.7,674.1 385.2,672.9 386.6,672.7 C388.1,672.4 390.0,673.0 390.7,673.1"/>
<path style="stroke-width:1.6" d="M405.7,679.8 C406.1,680.5 407.2,683.2 408.2,684.4 C409.2,685.6 411.1,686.4 411.7,686.9 M414.6,683.4 C415.3,683.1 417.4,682.0 418.8,681.7 C420.1,681.4 421.8,681.7 422.4,681.6 M421.4,686.4 C421.6,686.8 421.9,688.1 422.2,688.8 C422.6,689.5 423.1,690.4 423.3,690.7 M426.9,689.8 C427.0,690.4 427.1,692.4 427.5,693.4 C427.9,694.4 429.0,695.4 429.2,695.8 M332.5,677.4 C332.8,677.2 333.9,676.7 334.6,676.4 C335.3,676.2 336.1,676.0 336.4,675.9 M368.8,687.5 C369.3,687.2 371.0,686.1 372.0,685.6 C373.0,685.0 374.4,684.6 374.9,684.4 M391.7,690.9 C391.9,691.3 392.5,692.6 392.9,693.2 C393.4,693.8 394.3,694.2 394.6,694.4 M425.1,697.2 C425.8,696.7 427.9,695.1 429.2,694.3 C430.5,693.5 432.3,692.7 432.9,692.4"/>
<path style="stroke-width:1.6" d="M434.5,699.7 C434.7,700.2 435.2,701.9 435.7,702.7 C436.2,703.4 437.4,704.1 437.7,704.3 M313.1,683.8 C313.9,683.4 316.2,682.2 317.7,681.7 C319.1,681.2 321.0,680.9 321.6,680.7 M369.2,682.0 C370.0,682.3 372.6,683.5 374.1,683.7 C375.7,683.9 377.7,683.2 378.4,683.1 M310.1,690.5 C310.4,691.1 311.2,693.5 312.0,694.6 C312.8,695.6 314.5,696.4 315.0,696.8 M320.2,693.9 C321.0,693.4 323.6,691.9 325.2,691.3 C326.8,690.8 328.9,690.5 329.7,690.4 M330.0,695.8 C330.4,695.5 331.8,694.4 332.6,693.8 C333.4,693.2 334.5,692.6 334.9,692.4 M347.1,695.6 C347.9,695.2 350.3,693.5 351.8,692.9 C353.3,692.4 355.5,692.6 356.2,692.5 M365.8,696.2 C366.5,695.6 368.7,693.4 370.1,692.4 C371.5,691.4 373.5,690.5 374.2,690.1"/>
<path style="stroke-width:1.6" d="M393.1,701.1 C393.6,701.7 395.1,703.8 396.2,704.8 C397.2,705.8 398.9,706.6 399.4,707.0 M407.3,700.9 C407.3,701.3 407.1,702.7 407.2,703.4 C407.3,704.2 407.8,705.1 407.9,705.4 M418.0,703.5 C418.6,703.2 420.6,702.4 421.6,701.6 C422.6,700.9 423.5,699.6 423.9,699.2 M371.6,723.0 C371.3,723.7 370.4,725.9 370.1,727.2 C369.7,728.5 369.7,730.3 369.6,730.9 M373.2,731.9 C373.8,732.7 376.1,735.1 376.8,736.7 C377.6,738.3 377.7,740.8 377.8,741.6 M337.8,720.0 C338.0,720.5 338.5,722.1 338.8,723.0 C339.2,723.9 339.7,725.0 339.9,725.4 M414.4,691.1 C414.9,690.7 416.5,689.5 417.5,688.9 C418.4,688.3 419.7,687.7 420.2,687.5 M359.3,735.3 C359.1,735.8 358.1,737.6 357.7,738.6 C357.3,739.7 357.2,741.1 357.1,741.6"/>
<path style="stroke-width:1.6" d="M361.6,742.1 C361.3,742.5 360.3,743.8 359.8,744.6 C359.3,745.3 358.8,746.4 358.6,746.7 M364.4,749.2 C365.4,749.4 368.4,749.9 369.9,750.6 C371.5,751.4 372.9,753.1 373.5,753.6 M367.1,755.2 C367.8,755.5 370.3,756.1 371.5,756.8 C372.7,757.5 373.6,759.2 374.1,759.7 M369.8,761.2 C369.4,762.1 367.9,764.9 367.5,766.6 C367.0,768.3 367.3,770.5 367.3,771.3 M374.3,767.7 C374.8,767.7 376.2,767.8 376.9,767.9 C377.7,768.1 378.6,768.5 379.0,768.6 M379.0,773.8 C378.9,774.3 378.8,775.8 378.8,776.7 C378.9,777.5 379.1,778.6 379.2,779.0 M383.5,779.2 C384.3,779.5 386.8,780.2 388.2,780.8 C389.6,781.4 391.2,782.5 391.8,782.8 M388.1,783.8 C389.1,784.0 392.2,784.4 393.8,785.1 C395.3,785.8 396.9,787.6 397.5,788.0"/>
<path style="stroke-width:1.6" d="M336.8,734.7 C337.6,735.3 340.3,736.8 341.5,738.0 C342.7,739.3 343.5,741.5 343.9,742.1 M341.1,743.4 C341.0,744.3 340.3,747.1 340.3,748.7 C340.2,750.3 340.8,752.3 340.9,753.1 M346.0,751.8 C346.3,752.0 347.5,752.5 348.1,752.9 C348.7,753.3 349.2,754.1 349.4,754.4 M361.8,739.0 C361.5,739.6 360.7,741.4 360.4,742.5 C360.0,743.6 359.8,745.0 359.7,745.5 M363.3,746.6 C363.1,747.0 362.4,748.4 362.1,749.2 C361.9,750.0 361.9,751.1 361.9,751.5 M364.7,754.5 C364.3,755.4 362.9,758.2 362.2,759.9 C361.6,761.6 361.0,763.8 360.8,764.6 M365.6,765.6 C366.0,766.1 367.4,767.8 368.0,768.8 C368.6,769.8 369.1,771.3 369.4,771.8 M366.2,773.2 C365.7,774.1 363.7,776.7 363.1,778.4 C362.5,780.0 362.9,782.5 362.9,783.3"/>
<path style="stroke-width:1.6" d="M366.4,784.5 C366.9,785.3 368.7,787.7 369.6,789.2 C370.4,790.7 371.3,792.6 371.7,793.3 M366.4,794.7 C366.1,795.0 365.0,795.6 364.6,796.1 C364.1,796.6 363.8,797.4 363.7,797.7 M366.4,802.9 C366.8,803.7 368.3,806.2 368.8,807.7 C369.3,809.3 369.3,811.4 369.4,812.1 M322.1,740.6 C322.8,740.5 325.1,740.0 326.4,739.6 C327.7,739.2 329.2,738.5 329.8,738.3 M327.1,743.8 C327.0,744.3 326.9,745.9 326.8,746.8 C326.8,747.7 327.0,748.8 327.0,749.2 M331.6,748.9 C332.1,748.9 333.9,749.1 334.8,749.3 C335.8,749.5 336.9,750.0 337.3,750.2 M334.0,739.7 C334.6,739.4 336.8,738.4 337.9,737.7 C339.1,737.0 340.3,735.9 340.8,735.5 M335.6,733.3 C335.2,732.5 334.1,730.1 333.6,728.7 C333.1,727.3 332.6,725.4 332.4,724.8"/>
<path style="stroke-width:1.6" d="M353.0,779.1 C352.6,779.7 351.4,781.5 350.7,782.5 C350.0,783.6 349.4,785.0 349.1,785.5 M357.9,784.3 C357.9,783.8 357.8,782.0 357.9,781.1 C358.0,780.1 358.3,778.9 358.4,778.5 M365.7,781.0 C365.8,781.6 365.7,783.5 365.8,784.6 C366.0,785.6 366.7,786.9 366.9,787.4 M369.1,786.3 C369.8,786.6 371.9,787.2 373.0,787.7 C374.2,788.2 375.6,789.0 376.1,789.3"/>
<path style="stroke-width:1.7" d="M275.6,677.6 C275.3,682.3 274.7,696.3 273.7,705.7 C272.8,715.1 271.2,724.5 270.0,733.9 C268.7,743.3 267.2,754.3 266.2,762.1 C265.2,769.9 264.7,773.0 264.0,780.9 C263.3,788.7 262.4,804.4 262.1,809.0 M279.9,671.9 C279.9,676.0 280.1,687.6 279.9,696.3 C279.8,705.1 279.3,715.1 279.0,724.5 C278.7,733.9 278.7,743.3 278.1,752.7 C277.4,762.1 276.3,771.5 275.2,780.9 C274.1,790.3 272.1,804.4 271.5,809.0 M284.6,671.9 C284.9,676.0 286.0,687.6 286.5,696.3 C287.0,705.1 287.1,715.1 287.4,724.5 C287.8,733.9 287.9,743.3 288.4,752.7 C288.9,762.1 289.6,771.5 290.3,780.9 C290.9,790.3 291.8,804.4 292.1,809.0 M288.4,668.2 C289.3,672.2 292.5,684.1 294.0,692.6 C295.6,701.0 296.5,710.1 297.8,718.9 C299.0,727.7 300.3,736.4 301.5,745.2 C302.8,753.9 304.0,760.8 305.3,771.5 C306.5,782.1 308.4,802.8 309.0,809.0 M360.8,733.9 C361.4,737.0 363.6,745.8 364.5,752.7 C365.5,759.6 366.1,765.8 366.4,775.2 C366.7,784.6 366.4,803.4 366.4,809.0 M372.0,752.7 C373.3,752.7 378.0,752.1 379.5,752.7 C381.1,753.3 381.1,755.8 381.4,756.5 M351.4,773.4 C352.0,775.5 352.9,785.6 355.1,786.5 C357.3,787.4 361.4,777.7 364.5,779.0 C367.7,780.2 372.3,791.5 373.9,794.0 M327.0,762.1 C328.2,763.3 332.6,767.4 334.5,769.6 C336.3,771.8 337.6,774.3 338.2,775.2"/>
<path style="stroke-width:1.7" d="M304.4,752.7 C305.7,755.2 309.7,764.6 311.9,767.7 C314.1,770.9 316.6,770.9 317.6,771.5"/>
<path style="stroke-width:1.8" d="M278.1,658.8 C275.4,660.3 267.6,665.7 262.1,668.2 C256.6,670.7 250.8,672.1 245.2,673.8 C239.5,675.5 233.0,677.9 228.3,678.5 C223.6,679.1 219.7,678.3 217.0,677.6 C214.3,676.8 213.9,674.7 212.3,673.8 C210.7,672.9 208.4,672.2 207.6,671.9 M272.4,683.2 C271.2,685.4 266.9,690.4 264.9,696.3 C262.9,702.3 261.9,712.0 260.2,718.9 C258.5,725.8 256.3,732.0 254.6,737.7 C252.9,743.3 251.0,747.1 249.9,752.7 C248.8,758.3 248.8,763.7 248.0,771.5 C247.2,779.3 245.7,795.0 245.2,799.7 M211.4,698.2 C209.8,698.9 205.4,700.7 202.0,702.0 C198.5,703.2 194.2,704.5 190.7,705.7 C187.3,707.0 184.5,708.1 181.3,709.5 C178.2,710.9 174.7,713.3 171.9,714.2 C169.1,715.1 165.7,715.0 164.4,715.1 M224.5,706.7 C223.0,708.1 217.9,712.5 215.1,715.1 C212.3,717.8 209.8,719.5 207.6,722.6 C205.4,725.8 203.2,731.1 202.0,733.9 C200.7,736.7 200.4,738.6 200.1,739.5 M252.7,680.4 C250.8,681.5 245.5,684.3 241.4,687.0 C237.4,689.6 232.3,693.2 228.3,696.3 C224.2,699.5 220.1,702.6 217.0,705.7 C213.9,708.9 211.4,712.0 209.5,715.1 C207.6,718.3 206.4,723.0 205.7,724.5 M194.5,707.6 C193.2,706.7 189.6,703.9 187.0,702.0 C184.3,700.1 181.3,698.5 178.5,696.3 C175.7,694.2 171.8,691.2 170.1,688.8 C168.3,686.5 168.5,683.4 168.2,682.3 M183.2,724.5 C182.3,725.8 179.4,729.2 177.6,732.0 C175.7,734.9 173.5,739.7 171.9,741.4 C170.4,743.1 168.8,742.2 168.2,742.4 M196.3,725.5 C195.4,726.9 192.6,730.6 190.7,733.9 C188.8,737.2 187.0,741.7 185.1,745.2 C183.2,748.6 180.4,753.0 179.4,754.6"/>
<path style="stroke-width:1.8" d="M164.4,730.2 C163.2,729.8 159.3,728.0 156.9,728.3 C154.6,728.6 152.2,731.1 150.3,732.0 C148.5,733.0 146.4,733.6 145.6,733.9 M245.2,718.9 C243.9,719.5 240.2,719.5 237.7,722.6 C235.2,725.8 232.3,732.7 230.2,737.7 C228.0,742.7 226.1,748.9 224.5,752.7 C223.0,756.5 221.4,759.0 220.8,760.2 M233.9,733.9 C233.0,735.2 230.2,739.5 228.3,741.4 C226.4,743.3 224.5,742.1 222.6,745.2 C220.8,748.3 218.9,757.4 217.0,760.2 C215.1,763.0 212.3,761.8 211.4,762.1 M252.7,728.3 C251.8,728.6 248.9,728.0 247.1,730.2 C245.2,732.3 243.0,736.4 241.4,741.4 C239.9,746.4 238.6,756.5 237.7,760.2 C236.7,764.0 236.1,763.3 235.8,764.0 M256.5,748.9 C255.8,750.2 254.3,753.3 252.7,756.5 C251.1,759.6 248.9,764.0 247.1,767.7 C245.2,771.5 243.1,775.2 241.4,779.0 C239.7,782.7 237.5,788.4 236.7,790.3 M245.2,782.7 C244.7,784.0 243.6,787.1 242.4,790.3 C241.1,793.4 238.5,799.7 237.7,801.5 M357.0,728.3 C357.9,731.1 360.5,739.5 362.6,745.2 C364.8,750.8 367.0,756.8 370.2,762.1 C373.3,767.4 378.0,773.0 381.4,777.1 C384.9,781.2 389.3,784.9 390.8,786.5 M334.5,730.2 C335.7,732.7 339.8,741.1 342.0,745.2 C344.2,749.3 345.9,753.2 347.6,754.6 C349.3,756.0 351.5,753.8 352.3,753.6"/>
<path style="stroke-width:1.8" d="M317.6,745.2 C318.5,744.2 320.9,738.9 323.2,739.5 C325.5,740.2 329.5,750.5 331.7,748.9 C333.8,747.4 335.6,733.3 336.3,730.2"/>
<path style="stroke-width:2.0" d="M276.2,661.6 C272.9,663.5 263.5,669.7 256.5,672.9 C249.4,676.0 240.8,678.5 233.9,680.4 C227.0,682.3 221.4,683.9 215.1,684.1 C208.9,684.4 202.3,682.3 196.3,681.7 C190.4,681.1 184.1,680.7 179.4,680.4 C174.7,680.1 169.6,679.0 168.2,679.8 C166.8,680.6 170.5,684.2 171.0,685.1 M274.3,665.4 C270.7,667.9 260.1,676.3 252.7,680.4 C245.3,684.5 237.0,686.8 230.2,689.8 C223.3,692.7 217.3,695.3 211.4,698.2 C205.4,701.2 200.1,704.5 194.5,707.6 C188.8,710.7 182.9,714.5 177.6,717.0 C172.2,719.5 167.1,721.5 162.5,722.6 C158.0,723.7 152.4,723.4 150.3,723.6 M272.4,670.1 C268.5,673.5 256.9,684.6 248.9,690.7 C241.0,696.8 232.3,702.0 224.5,706.7 C216.7,711.4 208.9,715.9 202.0,718.9 C195.1,721.9 189.5,722.6 183.2,724.5 C176.9,726.4 169.7,728.0 164.4,730.2 C159.1,732.3 155.2,735.3 151.3,737.7 C147.4,740.0 142.7,743.1 140.9,744.2 M271.5,674.7 C268.3,678.0 258.3,689.3 252.7,694.5 C247.1,699.6 242.7,702.3 237.7,705.7 C232.7,709.2 227.0,711.4 222.6,715.1 C218.3,718.9 214.2,724.5 211.4,728.3 C208.6,732.0 207.3,735.8 205.7,737.7 C204.2,739.5 202.6,739.2 202.0,739.5 M270.5,680.4 C268.2,684.0 260.7,695.6 256.5,702.0 C252.2,708.4 248.9,713.6 245.2,718.9 C241.4,724.2 237.4,729.2 233.9,733.9 C230.5,738.6 227.7,743.3 224.5,747.1 C221.4,750.8 217.8,753.0 215.1,756.5 C212.5,759.9 209.7,765.8 208.6,767.7 M270.0,687.0 C268.3,690.4 263.1,700.7 260.2,707.6 C257.3,714.5 255.2,722.0 252.7,728.3 C250.2,734.5 247.4,739.5 245.2,745.2 C243.0,750.8 240.0,756.5 239.5,762.1 C239.1,767.7 242.7,774.3 242.4,779.0 C242.1,783.7 238.5,788.4 237.7,790.3 M271.9,688.8 C271.2,692.6 269.4,704.5 267.7,711.4 C266.1,718.3 264.0,723.9 262.1,730.2 C260.2,736.4 258.3,742.7 256.5,748.9 C254.6,755.2 252.7,762.1 250.8,767.7 C248.9,773.4 247.7,775.9 245.2,782.7 C242.7,789.6 237.4,804.7 235.8,809.0 M230.2,689.8 C228.3,689.6 222.6,689.1 218.9,688.8 C215.1,688.5 211.7,687.6 207.6,687.9 C203.5,688.2 198.5,689.3 194.5,690.7 C190.4,692.1 186.6,695.1 183.2,696.3 C179.8,697.6 176.8,697.3 173.8,698.2 C170.8,699.2 167.5,701.4 165.4,702.0 C163.2,702.6 161.4,702.0 160.7,702.0"/>
<path style="stroke-width:2.0" d="M283.8,666.3 C284.4,671.3 285.9,686.6 287.5,696.3 C289.1,706.1 291.3,715.1 293.1,724.5 C295.0,733.9 296.9,744.2 298.8,752.7 C300.7,761.1 302.9,769.0 304.4,775.2 C306.0,781.5 307.2,784.6 308.2,790.3 C309.1,795.9 309.7,805.9 310.1,809.0 M291.3,664.4 C291.9,668.2 293.5,678.5 295.0,687.0 C296.6,695.4 298.5,705.7 300.7,715.1 C302.9,724.5 305.7,734.5 308.2,743.3 C310.7,752.1 314.1,761.1 315.7,767.7 C317.3,774.3 316.8,775.9 317.6,782.7 C318.3,789.6 319.9,804.7 320.4,809.0 M280.0,703.9 C280.6,708.9 282.5,724.2 283.8,733.9 C285.0,743.6 285.6,753.3 287.5,762.1 C289.4,770.9 293.1,778.7 295.0,786.5 C296.9,794.3 298.2,805.3 298.8,809.0 M294.1,666.3 C295.5,669.7 298.6,678.8 302.5,687.0 C306.5,695.1 313.2,705.4 317.6,715.1 C321.9,724.8 325.7,735.8 328.8,745.2 C332.0,754.6 334.2,760.8 336.3,771.5 C338.5,782.1 341.0,802.8 342.0,809.0 M296.0,670.1 C298.0,673.5 303.0,683.2 308.2,690.7 C313.3,698.2 321.0,706.7 327.0,715.1 C332.9,723.6 339.5,732.7 343.9,741.4 C348.2,750.2 351.4,756.5 353.3,767.7 C355.1,779.0 354.8,802.2 355.1,809.0 M293.1,661.6 C294.1,662.4 294.7,665.2 298.8,666.3 C302.9,667.4 312.6,666.8 317.6,668.2 C322.6,669.6 324.5,673.8 328.8,674.7 C333.2,675.7 338.5,674.1 343.9,673.8 C349.2,673.5 355.1,672.9 360.8,672.9 C366.4,672.9 372.3,673.3 377.7,673.8 C383.0,674.3 387.7,674.6 392.7,675.7 C397.7,676.8 402.7,678.5 407.7,680.4 C412.7,682.3 418.7,684.8 422.7,687.0 C426.8,689.1 430.6,692.4 432.1,693.5 M295.0,668.2 C295.7,669.0 295.7,671.5 298.8,672.9 C301.9,674.3 309.1,676.2 313.8,676.6 C318.5,677.1 322.3,675.1 327.0,675.7 C331.7,676.3 336.7,678.7 342.0,680.4 C347.3,682.1 352.9,684.6 358.9,686.0 C364.8,687.4 371.4,687.9 377.7,688.8 C383.9,689.8 390.2,690.7 396.5,691.7 C402.7,692.6 408.7,693.1 415.2,694.5 C421.8,695.9 432.5,699.2 435.9,700.1 M296.0,673.8 C296.3,674.4 295.5,676.0 297.8,677.6 C300.2,679.1 305.5,681.8 310.1,683.2 C314.6,684.6 320.1,685.7 325.1,686.0 C330.1,686.3 335.1,684.9 340.1,685.1 C345.1,685.2 350.4,687.4 355.1,687.0 C359.8,686.5 363.6,683.8 368.3,682.3 C373.0,680.7 380.8,678.3 383.3,677.6"/>
<path style="stroke-width:2.0" d="M297.8,680.4 C298.3,681.2 298.0,683.0 300.7,685.1 C303.3,687.1 308.5,690.7 313.8,692.6 C319.1,694.5 326.3,695.9 332.6,696.3 C338.9,696.8 345.4,695.4 351.4,695.4 C357.3,695.4 362.6,695.6 368.3,696.3 C373.9,697.1 379.9,699.2 385.2,700.1 C390.5,701.0 397.7,701.7 400.2,702.0"/>
</g>
<!--/PLANT-->
</g>

<!-- ================= PANEL A : labels and arrows ================= -->
<g id="alabels">
<text x="10.800" y="22" class="b" font-size="25">a</text>
<text y="53" class="lab"><tspan x="1.3" y="53">1</tspan><tspan x="8.7" y="48" class="sup" textLength="8.6" lengthAdjust="spacingAndGlyphs">st</tspan><tspan x="23.7" y="53" textLength="115.6" lengthAdjust="spacingAndGlyphs">Visible Dewlap</tspan></text>
<text x="34" y="77.300" class="lab" textLength="72" lengthAdjust="spacingAndGlyphs">Leaf (L1)</text>
<text y="142" class="lab"><tspan x="9" y="142">5</tspan><tspan x="18.5" y="137" class="sup" textLength="10.5" lengthAdjust="spacingAndGlyphs">th</tspan><tspan x="33" y="142" textLength="117" lengthAdjust="spacingAndGlyphs">Visible Dewlap</tspan></text>
<text x="44" y="165" class="lab" textLength="72" lengthAdjust="spacingAndGlyphs">Leaf (L5)</text>
<!-- diagonal arrows to leaves -->
<path class="ar" d="M147.5,66.7 L152.5,60.5 L194.1,94.3 L196.0,92.0 L197.8,102.5 L187.2,102.9 L189.1,100.6 Z"/>
<path class="ar" d="M154.5,154.4 L159.5,148.2 L200.6,181.8 L202.5,179.5 L204.3,190.0 L193.7,190.4 L195.6,188.0 Z"/>
<!-- top internode arrows -->
<path class="ar" d="M445.4,129.4 L446.6,136.5 L299.6,164.2 L298.4,157.4 Z"/>
<path class="ar" d="M450.1,173.3 L450.1,179.9 L307.5,179.9 L307.5,182.9 L301.5,176.6 L307.5,170.3 L307.5,173.3 Z"/>
<path class="ar" d="M450.6,193.7 L450.6,200.3 L308.3,200.3 L308.3,203.3 L302.3,197.0 L308.3,190.7 L308.3,193.7 Z"/>
<text y="134.5" class="lab2"><tspan x="457.200" y="134.5" textLength="9.600" lengthAdjust="spacingAndGlyphs">2</tspan><tspan x="467.5" y="128.2" class="sup" textLength="14" lengthAdjust="spacingAndGlyphs">nd</tspan><tspan x="488.6" y="134.5" textLength="82.4" lengthAdjust="spacingAndGlyphs">Internode</tspan></text>
<text y="176" class="lab2"><tspan x="467.800" y="176" textLength="9.600" lengthAdjust="spacingAndGlyphs">3</tspan><tspan x="478.7" y="169.7" class="sup" textLength="11.3" lengthAdjust="spacingAndGlyphs">rd</tspan><tspan x="498.5" y="176" textLength="82.8" lengthAdjust="spacingAndGlyphs">Internode</tspan></text>
<text y="201.4" class="lab2"><tspan x="467.800" y="201.4" textLength="9.600" lengthAdjust="spacingAndGlyphs">4</tspan><tspan x="478.7" y="195.1" class="sup" textLength="10.3" lengthAdjust="spacingAndGlyphs">th</tspan><tspan x="499.2" y="201.4" textLength="82.1" lengthAdjust="spacingAndGlyphs">Internode</tspan></text>
<path d="M565.5,102.800 L586,102.800 Q591,102.800 591,107.800 L591,210.500 Q591,215.500 586,215.500 L565.500,215.500" fill="none" stroke="#111" stroke-width="1.5"/>
<text x="648.500" y="126" class="pool">Pooled as</text>
<text x="649" y="151" class="pool">Top</text>
<text x="648.500" y="174.500" class="pool">Internode</text>
<text x="649" y="200" class="poolr">(TI)</text>
<!-- middle internode arrows -->
<path class="ar" d="M445.6,356.4 L445.6,363.0 L302.1,363.0 L302.1,366.1 L295.8,359.7 L302.1,353.3 L302.1,356.4 Z"/>
<path class="ar" d="M445.6,375.7 L445.6,382.3 L302.1,382.3 L302.1,385.4 L295.8,379.0 L302.1,372.6 L302.1,375.7 Z"/>
<path class="ar" d="M445.6,394.9 L445.6,401.5 L302.1,401.5 L302.1,404.6 L295.8,398.2 L302.1,391.8 L302.1,394.9 Z"/>
<text y="362.9" class="lab2"><tspan x="449.200" y="362.9" textLength="18.300" lengthAdjust="spacingAndGlyphs">11</tspan><tspan x="467.3" y="357.4" class="sup" textLength="10.3" lengthAdjust="spacingAndGlyphs">th</tspan><tspan x="487.7" y="362.9" textLength="82.3" lengthAdjust="spacingAndGlyphs">Internode</tspan></text>
<text y="383.3" class="lab2"><tspan x="449.200" y="383.3" textLength="18.300" lengthAdjust="spacingAndGlyphs">12</tspan><tspan x="467.3" y="377.8" class="sup" textLength="10.3" lengthAdjust="spacingAndGlyphs">th</tspan><tspan x="487.7" y="383.3" textLength="82.3" lengthAdjust="spacingAndGlyphs">Internode</tspan></text>
<text y="404.7" class="lab2"><tspan x="449.200" y="404.7" textLength="18.300" lengthAdjust="spacingAndGlyphs">13</tspan><tspan x="467.3" y="399.2" class="sup" textLength="10.3" lengthAdjust="spacingAndGlyphs">th</tspan><tspan x="487.7" y="404.7" textLength="82.3" lengthAdjust="spacingAndGlyphs">Internode</tspan></text>
<path d="M571.300,343.300 L587.500,343.300 Q592,343.300 592,347.800 L592,412.200 Q592,416.700 587.500,416.700 L571.300,416.700" fill="none" stroke="#111" stroke-width="1.5"/>
<text x="651" y="339" class="pool">Pooled as</text>
<text x="651" y="363.500" class="pool">Middle</text>
<text x="651" y="389.500" class="pool">Internode</text>
<text x="651" y="414.500" class="poolr">(MI)</text>
<!-- bottom internode arrows -->
<path class="ar" d="M451.0,562.0 L451.0,568.6 L307.8,568.6 L307.8,571.7 L301.5,565.3 L307.8,558.9 L307.8,562.0 Z"/>
<path class="ar" d="M451.0,591.6 L451.0,598.2 L309.0,598.2 L309.0,601.3 L302.7,594.9 L309.0,588.5 L309.0,591.6 Z"/>
<path class="ar" d="M451.0,620.4 L451.0,627.0 L310.3,627.0 L310.3,630.1 L304.0,623.7 L310.3,617.3 L310.3,620.4 Z"/>
<text y="569.8" class="lab2"><tspan x="455.200" y="569.8" textLength="19" lengthAdjust="spacingAndGlyphs">21</tspan><tspan x="474.5" y="564.0" class="sup" textLength="8.4" lengthAdjust="spacingAndGlyphs">st</tspan><tspan x="494.5" y="569.8" textLength="83.9" lengthAdjust="spacingAndGlyphs">Internode</tspan></text>
<text y="598.9" class="lab2"><tspan x="455.200" y="598.9" textLength="19" lengthAdjust="spacingAndGlyphs">22</tspan><tspan x="474.9" y="593.1" class="sup" textLength="14.8" lengthAdjust="spacingAndGlyphs">nd</tspan><tspan x="496" y="598.9" textLength="83" lengthAdjust="spacingAndGlyphs">Internode</tspan></text>
<text y="628.5" class="lab2"><tspan x="455.200" y="628.5" textLength="19" lengthAdjust="spacingAndGlyphs">23</tspan><tspan x="474.9" y="622.7" class="sup" textLength="12" lengthAdjust="spacingAndGlyphs">rd</tspan><tspan x="496" y="628.5" textLength="83" lengthAdjust="spacingAndGlyphs">Internode</tspan></text>
<path d="M566.800,543.900 L588,543.900 Q592.600,543.900 592.600,548.500 L592.600,635 Q592.600,639.600 588,639.600 L566.800,639.600" fill="none" stroke="#111" stroke-width="1.5"/>
<text x="651" y="559.500" class="pool">Pooled as</text>
<text x="651" y="584.500" class="pool">Bottom</text>
<text x="651" y="609.500" class="pool">Internode</text>
<text x="651" y="634" class="poolr">(BI)</text>
<!-- root box and arrow -->
<rect x="298.500" y="662.200" width="145.700" height="65.200" fill="none" stroke="#fa0808" stroke-width="2.3"/>
<path class="ar" d="M482.8,692.2 L482.8,700.6 L457.0,700.6 L457.0,703.9 L450.0,696.4 L457.0,688.9 L457.0,692.2 Z"/>
<text x="494.400" y="701.500" class="lab2" textLength="71.800" lengthAdjust="spacingAndGlyphs">Root (R)</text>
</g>

<!-- ================= PANEL B : boxplot ================= -->
<g id="panelb">
<text x="780" y="23" class="b" font-size="25">b</text>
<line x1="827.500" y1="0" x2="827.500" y2="323" stroke="#555" stroke-width="1.2"/>
<line x1="827" y1="322.500" x2="1191" y2="322.500" stroke="#555" stroke-width="1.2"/>
<text x="822" y="81" class="tick">60</text>
<text x="822" y="164" class="tick">40</text>
<text x="822" y="246.500" class="tick">20</text>
<text x="822" y="328.500" class="tick">0</text>
<text transform="translate(796,314) rotate(-90)" class="b" font-size="16.500" textLength="244" lengthAdjust="spacingAndGlyphs">% of Biomass at Dry Weight (DW)</text>

<g stroke="#0e131c" stroke-width="1.4" fill="#4c98e4">
<path d="M882,20.500 V55 M874,20.500 H890 M882,232.500 V269 M874,269 H890" fill="none"/>
<rect x="865.500" y="55" width="33" height="177.500"/>
<line x1="865.500" y1="154" x2="898.500" y2="154"/>

<path d="M952,150.500 V191.500 M944,150.500 H960 M952,263 V292.500 M944,292.500 H960" fill="none"/>
<rect x="935.500" y="191.500" width="33" height="71.500"/>
<line x1="935.500" y1="228.500" x2="968.500" y2="228.500" stroke-width="1.8"/>

<path d="M1022,214.500 V250 M1014,214.500 H1030 M1022,288 V299 M1014,299 H1030" fill="none"/>
<rect x="1005.500" y="250" width="33" height="38"/>
<line x1="1005.500" y1="272" x2="1038.500" y2="272"/>

<path d="M1092,234 V258 M1084,234 H1100 M1092,296 V302.500 M1084,302.500 H1100" fill="none"/>
<rect x="1075.500" y="258" width="33" height="38"/>
<line x1="1075.500" y1="277.500" x2="1108.500" y2="277.500" stroke-width="1.8"/>

<path d="M1162,242 V258 M1154,242 H1170 M1162,300.500 V312 M1154,312 H1170" fill="none"/>
<rect x="1145.500" y="258" width="33" height="42.500"/>
<line x1="1145.500" y1="282" x2="1178.500" y2="282" stroke-width="1.8"/>
</g>

<text transform="translate(900,335) rotate(-45)" class="xl">Extractives</text>
<text transform="translate(957,339) rotate(-45)" class="xl">Other</text>
<text transform="translate(1031,335) rotate(-45)" class="xl">Cellulose</text>
<text transform="translate(1100,335) rotate(-45)" class="xl">Hemicellulose</text>
<text transform="translate(1163,339.500) rotate(-45)" class="xl">Lignin</text>
</g>

<!-- ================= PANEL C : correlation heatmap ================= -->
<g id="panelc">
<text x="763.700" y="438.300" class="b" font-size="26.500">c</text>

<!-- cells -->
<rect x="1136" y="421" width="64" height="68.500" fill="#fe0000"/>
<rect x="1072" y="490" width="63.500" height="68.500" fill="#fe0000"/>
<rect x="1136" y="490" width="64" height="68.500" fill="#ff3838"/>
<rect x="1007.500" y="559.500" width="63.500" height="68" fill="#fe0000"/>
<rect x="1072" y="559.500" width="63.500" height="68" fill="#ff6a6a"/>
<rect x="1136" y="559.500" width="64" height="68" fill="#ff6e6e"/>
<rect x="943" y="628.500" width="63.500" height="68.500" fill="#fe0000"/>
<rect x="1007.500" y="628.500" width="63.500" height="68.500" fill="#1276c4"/>
<rect x="1072" y="628.500" width="63.500" height="68.500" fill="#167ac6"/>
<rect x="1136" y="628.500" width="64" height="68.500" fill="#1a7cc8"/>
<rect x="878.500" y="698" width="63.500" height="68.500" fill="#fe0000"/>
<rect x="943" y="698" width="63.500" height="68.500" fill="#2684cb"/>
<rect x="1007.500" y="698" width="63.500" height="68.500" fill="#e2eff8"/>
<rect x="1072" y="698" width="63.500" height="68.500" fill="#d3e6f5"/>
<rect x="1136" y="698" width="64" height="68.500" fill="#c9dff2"/>

<!-- cell values -->
<text x="1168" y="464" class="cv">1</text>
<text x="1103.500" y="533.5" class="cv">1</text>
<text x="1168" y="533.5" class="cv">0.93</text>
<text x="1039" y="603" class="cv">1</text>
<text x="1103.500" y="603" class="cv">0.87</text>
<text x="1168" y="603" class="cv">0.86</text>
<text x="974.500" y="672" class="cv">1</text>
<text x="1039" y="672" class="cv">-0.91</text>
<text x="1103.500" y="672" class="cv">-0.87</text>
<text x="1168" y="672" class="cv">-0.84</text>
<text x="910" y="741.5" class="cv">1</text>
<text x="974.500" y="741.5" class="cv">-0.76</text>
<text x="1039" y="741.5" class="cvd">0.49</text>
<text x="1103.500" y="741.5" class="cvd">0.39</text>
<text x="1168" y="741.5" class="cvd">0.31</text>

<!-- row labels -->
<text x="783.500" y="462.500" class="rl" textLength="70.500" lengthAdjust="spacingAndGlyphs">Cellulose</text>
<text x="765.500" y="531.700" class="rl" textLength="106.300" lengthAdjust="spacingAndGlyphs">Hemicellulose</text>
<text x="793.700" y="601.400" class="rl" textLength="50" lengthAdjust="spacingAndGlyphs">Lignin</text>
<text x="775.400" y="671.300" class="rl" textLength="86.600" lengthAdjust="spacingAndGlyphs">Extractives</text>
<text x="795.600" y="740.300" class="rl" textLength="45.800" lengthAdjust="spacingAndGlyphs">Other</text>

<!-- column labels -->
<text transform="translate(906,791) rotate(-45)" class="xl">Other</text>
<text transform="translate(981,783) rotate(-45)" class="xl">Extractives</text>
<text transform="translate(1040,791) rotate(-45)" class="xl">Lignin</text>
<text transform="translate(1111,783) rotate(-45)" class="xl">Hemicellulose</text>
<text transform="translate(1186,787) rotate(-45)" class="xl">Cellulose</text>

<!-- legend -->
<text x="979" y="490.500" class="b" font-size="13.500" text-anchor="middle">Pearson Correlation</text>
<rect x="916.500" y="498" width="115.500" height="17.500" fill="url(#pg)"/>
<path d="M947,498 v2 M947,515.500 v-2 M1001.300,498 v2 M1001.300,515.500 v-2" stroke="#fff" stroke-width="0.8" fill="none" opacity="0.8"/>
<text x="917.800" y="527.800" class="lt">-1.0</text>
<text x="945.600" y="527.800" class="lt">-0.5</text>
<text x="976" y="527.800" class="lt">0.0</text>
<text x="1001" y="527.800" class="lt">0.5</text>
<text x="1030.300" y="527.800" class="lt">1.0</text>
</g>
</svg>
</body>
</html>
